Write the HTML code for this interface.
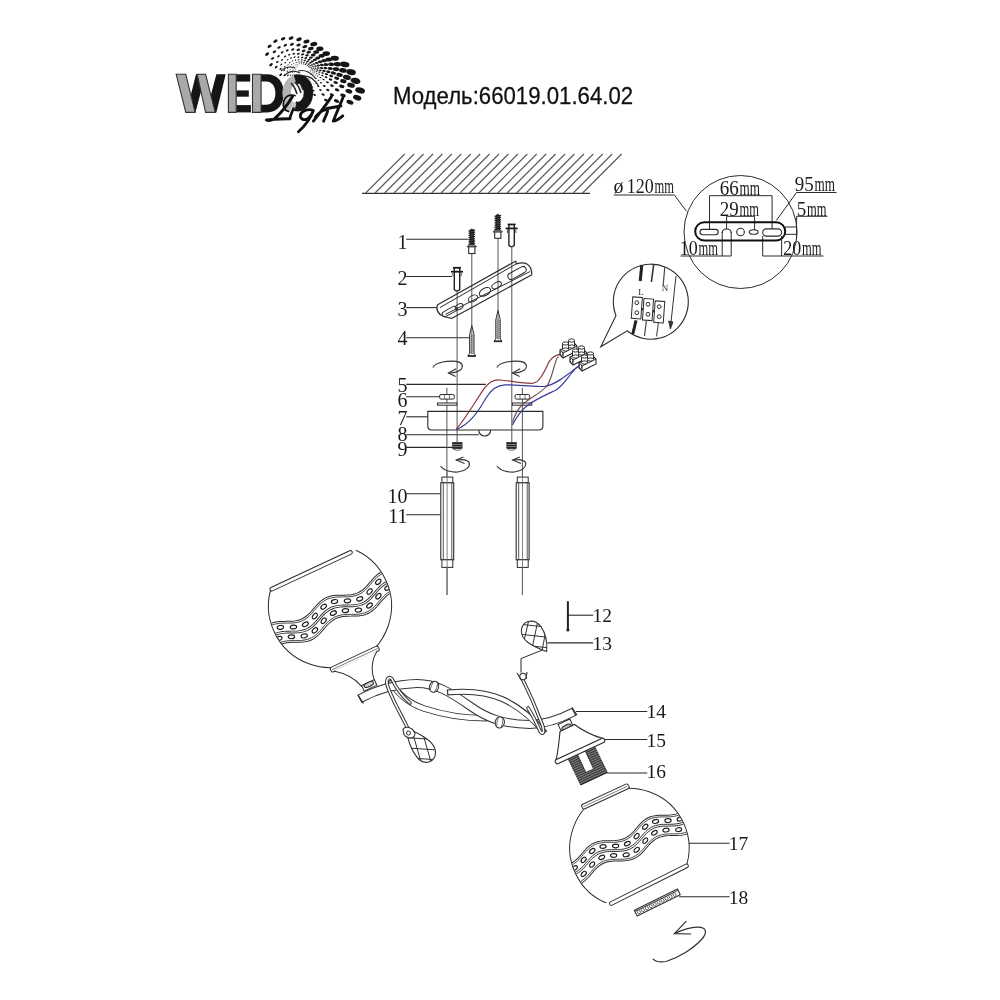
<!DOCTYPE html>
<html><head><meta charset="utf-8"><style>
html,body{margin:0;padding:0;background:#fff;}
svg{display:block;will-change:transform;}
</style></head><body>
<svg width="1000" height="1000" viewBox="0 0 1000 1000">
<rect width="1000" height="1000" fill="#fff"/>
<text x="0" y="0" transform="translate(393,104.2) scale(1,1.1)" font-family="Liberation Sans" font-size="22.2" fill="#111" stroke="#111" stroke-width="0.25">Модель:66019.01.64.02</text>
<line x1="362" y1="193.3" x2="590" y2="193.3" stroke="#333" stroke-width="1.3"/>
<line x1="365.7" y1="193" x2="404.7" y2="154" stroke="#585858" stroke-width="1.1"/>
<line x1="375.1" y1="193" x2="414.1" y2="154" stroke="#585858" stroke-width="1.1"/>
<line x1="384.6" y1="193" x2="423.6" y2="154" stroke="#585858" stroke-width="1.1"/>
<line x1="394" y1="193" x2="433" y2="154" stroke="#585858" stroke-width="1.1"/>
<line x1="403.4" y1="193" x2="442.4" y2="154" stroke="#585858" stroke-width="1.1"/>
<line x1="412.8" y1="193" x2="451.8" y2="154" stroke="#585858" stroke-width="1.1"/>
<line x1="422.3" y1="193" x2="461.3" y2="154" stroke="#585858" stroke-width="1.1"/>
<line x1="431.7" y1="193" x2="470.7" y2="154" stroke="#585858" stroke-width="1.1"/>
<line x1="441.1" y1="193" x2="480.1" y2="154" stroke="#585858" stroke-width="1.1"/>
<line x1="450.6" y1="193" x2="489.6" y2="154" stroke="#585858" stroke-width="1.1"/>
<line x1="460" y1="193" x2="499" y2="154" stroke="#585858" stroke-width="1.1"/>
<line x1="469.4" y1="193" x2="508.4" y2="154" stroke="#585858" stroke-width="1.1"/>
<line x1="478.9" y1="193" x2="517.9" y2="154" stroke="#585858" stroke-width="1.1"/>
<line x1="488.3" y1="193" x2="527.3" y2="154" stroke="#585858" stroke-width="1.1"/>
<line x1="497.7" y1="193" x2="536.7" y2="154" stroke="#585858" stroke-width="1.1"/>
<line x1="507.1" y1="193" x2="546.1" y2="154" stroke="#585858" stroke-width="1.1"/>
<line x1="516.6" y1="193" x2="555.6" y2="154" stroke="#585858" stroke-width="1.1"/>
<line x1="526" y1="193" x2="565" y2="154" stroke="#585858" stroke-width="1.1"/>
<line x1="535.4" y1="193" x2="574.4" y2="154" stroke="#585858" stroke-width="1.1"/>
<line x1="544.9" y1="193" x2="583.9" y2="154" stroke="#585858" stroke-width="1.1"/>
<line x1="554.3" y1="193" x2="593.3" y2="154" stroke="#585858" stroke-width="1.1"/>
<line x1="563.7" y1="193" x2="602.7" y2="154" stroke="#585858" stroke-width="1.1"/>
<line x1="573.2" y1="193" x2="612.2" y2="154" stroke="#585858" stroke-width="1.1"/>
<line x1="582.6" y1="193" x2="621.6" y2="154" stroke="#585858" stroke-width="1.1"/>
<circle cx="740.5" cy="232" r="56.5" stroke="#2b2b2b" stroke-width="1" fill="none"/>
<path d="M613.8,195 L674.4,195 L686.4,211.2" stroke="#2b2b2b" stroke-width="1" fill="none"/>
<text x="613.5" y="193.3" font-family="Liberation Serif" font-size="20" text-anchor="start" fill="#1a1a1a">ø</text>
<text x="626.8" y="193.4" font-family="Liberation Serif" font-size="20" text-anchor="start" fill="#1a1a1a" textLength="27" lengthAdjust="spacingAndGlyphs">120</text>
<text x="654.5" y="193.4" font-family="Liberation Serif" font-size="20" text-anchor="start" fill="#1a1a1a" textLength="19.5" lengthAdjust="spacingAndGlyphs">mm</text>
<text x="719.8" y="195.3" font-family="Liberation Serif" font-size="20" text-anchor="start" fill="#1a1a1a" textLength="19" lengthAdjust="spacingAndGlyphs">66</text>
<text x="739.5" y="195.3" font-family="Liberation Serif" font-size="20" text-anchor="start" fill="#1a1a1a" textLength="20.5" lengthAdjust="spacingAndGlyphs">mm</text>
<text x="719.8" y="215.6" font-family="Liberation Serif" font-size="20" text-anchor="start" fill="#1a1a1a" textLength="19" lengthAdjust="spacingAndGlyphs">29</text>
<text x="739.5" y="215.6" font-family="Liberation Serif" font-size="20" text-anchor="start" fill="#1a1a1a" textLength="19.5" lengthAdjust="spacingAndGlyphs">mm</text>
<text x="794.8" y="191.1" font-family="Liberation Serif" font-size="20" text-anchor="start" fill="#1a1a1a" textLength="19" lengthAdjust="spacingAndGlyphs">95</text>
<text x="814.5" y="191.1" font-family="Liberation Serif" font-size="20" text-anchor="start" fill="#1a1a1a" textLength="20.5" lengthAdjust="spacingAndGlyphs">mm</text>
<text x="796.8" y="215.6" font-family="Liberation Serif" font-size="20" text-anchor="start" fill="#1a1a1a" textLength="9.5" lengthAdjust="spacingAndGlyphs">5</text>
<text x="807" y="215.6" font-family="Liberation Serif" font-size="20" text-anchor="start" fill="#1a1a1a" textLength="19.5" lengthAdjust="spacingAndGlyphs">mm</text>
<text x="679.8" y="255.3" font-family="Liberation Serif" font-size="20" text-anchor="start" fill="#1a1a1a" textLength="18" lengthAdjust="spacingAndGlyphs">10</text>
<text x="698.5" y="255.3" font-family="Liberation Serif" font-size="20" text-anchor="start" fill="#1a1a1a" textLength="19.5" lengthAdjust="spacingAndGlyphs">mm</text>
<text x="783.3" y="255.3" font-family="Liberation Serif" font-size="20" text-anchor="start" fill="#1a1a1a" textLength="18" lengthAdjust="spacingAndGlyphs">20</text>
<text x="802" y="255.3" font-family="Liberation Serif" font-size="20" text-anchor="start" fill="#1a1a1a" textLength="19.5" lengthAdjust="spacingAndGlyphs">mm</text>
<line x1="796.6" y1="192.5" x2="836.5" y2="192.5" stroke="#2b2b2b" stroke-width="1"/>
<line x1="796.6" y1="192.5" x2="776.3" y2="220.5" stroke="#2b2b2b" stroke-width="1"/>
<line x1="796.6" y1="216.3" x2="827.4" y2="216.3" stroke="#2b2b2b" stroke-width="1"/>
<line x1="796.6" y1="216.3" x2="796.6" y2="238.8" stroke="#2b2b2b" stroke-width="1"/>
<line x1="785" y1="227" x2="797" y2="227" stroke="#2b2b2b" stroke-width="1"/>
<line x1="785" y1="234.3" x2="797" y2="234.3" stroke="#2b2b2b" stroke-width="1"/>
<path d="M709.5,229.5 L709.5,195.7 L772.1,195.7 L772.1,229" stroke="#2b2b2b" stroke-width="1" fill="none"/>
<path d="M726.6,229 L726.6,216.3 L754.6,216.3 L754.6,230" stroke="#2b2b2b" stroke-width="1" fill="none"/>
<path d="M680.5,256 L731.2,256 L731.2,232" stroke="#2b2b2b" stroke-width="1" fill="none"/>
<line x1="722.2" y1="232" x2="722.2" y2="256" stroke="#2b2b2b" stroke-width="1"/>
<path d="M762.7,236 L762.7,256 L823.5,256" stroke="#2b2b2b" stroke-width="1" fill="none"/>
<line x1="781.6" y1="236" x2="781.6" y2="256" stroke="#2b2b2b" stroke-width="1"/>
<rect x="695.2" y="222.2" width="90" height="18.4" rx="9.2" stroke="#111" stroke-width="2" fill="none"/>
<rect x="700" y="229.4" width="18.2" height="5.4" rx="2.7" stroke="#2b2b2b" stroke-width="1.1" fill="none"/>
<path d="M722.2,233 Q722.2,229 726.7,229 Q731.2,229 731.2,233" stroke="#2b2b2b" stroke-width="1.1" fill="none"/>
<circle cx="740.5" cy="232" r="3.8" stroke="#2b2b2b" stroke-width="1.1" fill="none"/>
<ellipse cx="753.7" cy="232" rx="4.4" ry="2.3" stroke="#2b2b2b" stroke-width="1.1" fill="none"/>
<rect x="762.7" y="228.9" width="18.9" height="7.2" rx="3.6" stroke="#2b2b2b" stroke-width="1.1" fill="none"/>
<text x="407.5" y="248.5" font-family="Liberation Serif" font-size="20" text-anchor="end" fill="#1a1a1a">1</text>
<line x1="406.2" y1="239.2" x2="468.2" y2="239.2" stroke="#2b2b2b" stroke-width="1.1"/>
<text x="407.5" y="284.5" font-family="Liberation Serif" font-size="20" text-anchor="end" fill="#1a1a1a">2</text>
<line x1="406.2" y1="276.5" x2="452" y2="276.5" stroke="#2b2b2b" stroke-width="1.1"/>
<text x="407.5" y="315.8" font-family="Liberation Serif" font-size="20" text-anchor="end" fill="#1a1a1a">3</text>
<line x1="406.2" y1="307.6" x2="436.7" y2="307.6" stroke="#2b2b2b" stroke-width="1.1"/>
<text x="407.5" y="344.8" font-family="Liberation Serif" font-size="20" text-anchor="end" fill="#1a1a1a">4</text>
<line x1="406.2" y1="337.7" x2="470" y2="337.7" stroke="#2b2b2b" stroke-width="1.1"/>
<text x="407.5" y="392.2" font-family="Liberation Serif" font-size="20" text-anchor="end" fill="#1a1a1a">5</text>
<line x1="406.2" y1="384.4" x2="485.8" y2="384.4" stroke="#2b2b2b" stroke-width="1.1"/>
<text x="407.5" y="407" font-family="Liberation Serif" font-size="20" text-anchor="end" fill="#1a1a1a">6</text>
<line x1="406.2" y1="396.8" x2="439.6" y2="396.8" stroke="#2b2b2b" stroke-width="1.1"/>
<text x="407.5" y="424.5" font-family="Liberation Serif" font-size="20" text-anchor="end" fill="#1a1a1a">7</text>
<line x1="406.2" y1="416.8" x2="427.8" y2="416.8" stroke="#2b2b2b" stroke-width="1.1"/>
<text x="407.5" y="441.2" font-family="Liberation Serif" font-size="20" text-anchor="end" fill="#1a1a1a">8</text>
<line x1="406.2" y1="434.8" x2="478.8" y2="434.8" stroke="#2b2b2b" stroke-width="1.1"/>
<text x="407.5" y="456" font-family="Liberation Serif" font-size="20" text-anchor="end" fill="#1a1a1a">9</text>
<line x1="406.2" y1="447.4" x2="452.9" y2="447.4" stroke="#2b2b2b" stroke-width="1.1"/>
<text x="407.5" y="502.5" font-family="Liberation Serif" font-size="20" text-anchor="end" fill="#1a1a1a">10</text>
<line x1="406.2" y1="493.8" x2="440.7" y2="493.8" stroke="#2b2b2b" stroke-width="1.1"/>
<text x="407.5" y="523.3" font-family="Liberation Serif" font-size="20" text-anchor="end" fill="#1a1a1a">11</text>
<line x1="406.2" y1="514.7" x2="440.7" y2="514.7" stroke="#2b2b2b" stroke-width="1.1"/>
<line x1="471.8" y1="253.5" x2="471.8" y2="327" stroke="#555" stroke-width="1"/>
<line x1="498" y1="238.3" x2="498" y2="311" stroke="#555" stroke-width="1"/>
<line x1="457.1" y1="291.5" x2="457.1" y2="442" stroke="#555" stroke-width="1"/>
<line x1="511.8" y1="247.3" x2="511.8" y2="442" stroke="#555" stroke-width="1"/>
<line x1="446.9" y1="387.8" x2="446.9" y2="477" stroke="#555" stroke-width="1"/>
<line x1="522.4" y1="388" x2="522.4" y2="477" stroke="#555" stroke-width="1"/>
<line x1="447" y1="567" x2="447" y2="595" stroke="#555" stroke-width="1"/>
<line x1="522.4" y1="567" x2="522.4" y2="595" stroke="#555" stroke-width="1"/>
<path d="M470,245 L470,230.3 Q471.8,227.8 473.6,230.3 L473.6,245" fill="#444" stroke="#222" stroke-width="1"/>
<line x1="468.5" y1="231.1" x2="475.1" y2="229.9" stroke="#1a1a1a" stroke-width="1.1"/>
<line x1="468.5" y1="233.3" x2="475.1" y2="232.1" stroke="#1a1a1a" stroke-width="1.1"/>
<line x1="468.5" y1="235.5" x2="475.1" y2="234.3" stroke="#1a1a1a" stroke-width="1.1"/>
<line x1="468.5" y1="237.7" x2="475.1" y2="236.5" stroke="#1a1a1a" stroke-width="1.1"/>
<line x1="468.5" y1="239.9" x2="475.1" y2="238.7" stroke="#1a1a1a" stroke-width="1.1"/>
<line x1="468.5" y1="242.1" x2="475.1" y2="240.9" stroke="#1a1a1a" stroke-width="1.1"/>
<line x1="468.5" y1="244.3" x2="475.1" y2="243.1" stroke="#1a1a1a" stroke-width="1.1"/>
<path d="M467.2,246.8 L468.7,245 L474.9,245 L476.4,246.8 Z" stroke="#2b2b2b" stroke-width="1" fill="#fff"/>
<rect x="468.7" y="246.8" width="6.2" height="6.7" fill="#fff" stroke="#2b2b2b" stroke-width="1.1"/>
<path d="M496,230.2 L496,215.6 Q497.8,213.1 499.6,215.6 L499.6,230.2" fill="#444" stroke="#222" stroke-width="1"/>
<line x1="494.5" y1="216.4" x2="501.1" y2="215.2" stroke="#1a1a1a" stroke-width="1.1"/>
<line x1="494.5" y1="218.6" x2="501.1" y2="217.4" stroke="#1a1a1a" stroke-width="1.1"/>
<line x1="494.5" y1="220.8" x2="501.1" y2="219.6" stroke="#1a1a1a" stroke-width="1.1"/>
<line x1="494.5" y1="223" x2="501.1" y2="221.8" stroke="#1a1a1a" stroke-width="1.1"/>
<line x1="494.5" y1="225.2" x2="501.1" y2="224" stroke="#1a1a1a" stroke-width="1.1"/>
<line x1="494.5" y1="227.4" x2="501.1" y2="226.2" stroke="#1a1a1a" stroke-width="1.1"/>
<line x1="494.5" y1="229.6" x2="501.1" y2="228.4" stroke="#1a1a1a" stroke-width="1.1"/>
<path d="M493.2,232 L494.7,230.2 L500.9,230.2 L502.4,232 Z" stroke="#2b2b2b" stroke-width="1" fill="#fff"/>
<rect x="494.7" y="232" width="6.2" height="6.3" fill="#fff" stroke="#2b2b2b" stroke-width="1.1"/>
<path d="M508.9,224.5 L508.9,245.3 Q511.6,248.3 514.3,245.3 L514.3,224.5" fill="#fff" stroke="#222" stroke-width="1.4"/>
<line x1="507.6" y1="224.5" x2="515.6" y2="224.5" stroke="#1a1a1a" stroke-width="1.8"/>
<line x1="505.6" y1="228.4" x2="517.6" y2="228.4" stroke="#1a1a1a" stroke-width="1.8"/>
<line x1="507.4" y1="229.5" x2="507.4" y2="233" stroke="#555" stroke-width="1"/>
<line x1="515.8" y1="229.5" x2="515.8" y2="233" stroke="#555" stroke-width="1"/>
<path d="M454.3,267.8 L454.3,289.5 Q457,292.5 459.7,289.5 L459.7,267.8" fill="#fff" stroke="#222" stroke-width="1.4"/>
<line x1="453" y1="267.8" x2="461" y2="267.8" stroke="#1a1a1a" stroke-width="1.8"/>
<line x1="451" y1="271.7" x2="463" y2="271.7" stroke="#1a1a1a" stroke-width="1.8"/>
<line x1="452.8" y1="272.8" x2="452.8" y2="276.3" stroke="#555" stroke-width="1"/>
<line x1="461.2" y1="272.8" x2="461.2" y2="276.3" stroke="#555" stroke-width="1"/>
<path d="M471.8,325.5 L474,334.6 L474,353.5 L475.8,356 L467.8,356 L469.6,353.5 L469.6,334.6 Z" fill="#fff" stroke="#2b2b2b" stroke-width="1"/>
<line x1="469.6" y1="334.6" x2="474" y2="335.4" stroke="#555" stroke-width="0.7"/>
<line x1="469.6" y1="336.6" x2="474" y2="337.4" stroke="#555" stroke-width="0.7"/>
<line x1="469.6" y1="338.6" x2="474" y2="339.4" stroke="#555" stroke-width="0.7"/>
<line x1="469.6" y1="340.6" x2="474" y2="341.4" stroke="#555" stroke-width="0.7"/>
<line x1="469.6" y1="342.6" x2="474" y2="343.4" stroke="#555" stroke-width="0.7"/>
<line x1="469.6" y1="344.6" x2="474" y2="345.4" stroke="#555" stroke-width="0.7"/>
<line x1="469.6" y1="346.6" x2="474" y2="347.4" stroke="#555" stroke-width="0.7"/>
<line x1="469.6" y1="348.6" x2="474" y2="349.4" stroke="#555" stroke-width="0.7"/>
<line x1="469.6" y1="350.6" x2="474" y2="351.4" stroke="#555" stroke-width="0.7"/>
<line x1="469.6" y1="352.6" x2="474" y2="353.4" stroke="#555" stroke-width="0.7"/>
<line x1="471.8" y1="327.5" x2="471.8" y2="354" stroke="#444" stroke-width="0.8"/>
<line x1="467.8" y1="356" x2="475.8" y2="356" stroke="#222" stroke-width="1.6"/>
<path d="M498,310.5 L500.2,319.7 L500.2,338.8 L502,341.3 L494,341.3 L495.8,338.8 L495.8,319.7 Z" fill="#fff" stroke="#2b2b2b" stroke-width="1"/>
<line x1="495.8" y1="319.7" x2="500.2" y2="320.5" stroke="#555" stroke-width="0.7"/>
<line x1="495.8" y1="321.7" x2="500.2" y2="322.5" stroke="#555" stroke-width="0.7"/>
<line x1="495.8" y1="323.7" x2="500.2" y2="324.5" stroke="#555" stroke-width="0.7"/>
<line x1="495.8" y1="325.7" x2="500.2" y2="326.5" stroke="#555" stroke-width="0.7"/>
<line x1="495.8" y1="327.7" x2="500.2" y2="328.5" stroke="#555" stroke-width="0.7"/>
<line x1="495.8" y1="329.7" x2="500.2" y2="330.5" stroke="#555" stroke-width="0.7"/>
<line x1="495.8" y1="331.7" x2="500.2" y2="332.5" stroke="#555" stroke-width="0.7"/>
<line x1="495.8" y1="333.7" x2="500.2" y2="334.5" stroke="#555" stroke-width="0.7"/>
<line x1="495.8" y1="335.7" x2="500.2" y2="336.5" stroke="#555" stroke-width="0.7"/>
<line x1="495.8" y1="337.7" x2="500.2" y2="338.5" stroke="#555" stroke-width="0.7"/>
<line x1="498" y1="312.5" x2="498" y2="339.3" stroke="#444" stroke-width="0.8"/>
<line x1="494" y1="341.3" x2="502" y2="341.3" stroke="#222" stroke-width="1.6"/>
<path d="M437.2,305 L515.8,261" stroke="#2b2b2b" stroke-width="1.1" fill="none"/>
<path d="M439.9,307.6 L516.4,263.8" stroke="#2b2b2b" stroke-width="1" fill="none"/>
<path d="M445.4,314.4 L530.1,271.5" stroke="#2b2b2b" stroke-width="1" fill="none"/>
<path d="M452,318.3 L531.8,274.8" stroke="#2b2b2b" stroke-width="1.2" fill="none"/>
<path d="M437.2,305 Q435.5,313 443,316 Q447,318 452,318.3" stroke="#2b2b2b" stroke-width="1.2" fill="none"/>
<path d="M515.8,261 L516.4,263.8 Q523.5,262 527,264 Q532,267 531.8,274.8" stroke="#2b2b2b" stroke-width="1.2" fill="none"/>
<ellipse cx="459.2" cy="306.7" rx="4.2" ry="2.6" transform="rotate(-29 459.2 306.7)" fill="none" stroke="#2b2b2b" stroke-width="1"/>
<ellipse cx="472.9" cy="298.5" rx="5.0" ry="3.0" transform="rotate(-29 472.9 298.5)" fill="none" stroke="#2b2b2b" stroke-width="1"/>
<ellipse cx="485" cy="291.9" rx="6.2" ry="3.6" transform="rotate(-29 485 291.9)" fill="none" stroke="#2b2b2b" stroke-width="1"/>
<ellipse cx="496.6" cy="285.3" rx="5.2" ry="2.8" transform="rotate(-29 496.6 285.3)" fill="none" stroke="#2b2b2b" stroke-width="1"/>
<rect x="-10" y="-3.2" width="20" height="6.4" rx="3.2" transform="translate(517,273) rotate(-29)" fill="none" stroke="#2b2b2b" stroke-width="1"/>
<rect x="-8" y="-2.6" width="16" height="5.2" rx="2.6" transform="translate(449.5,311.5) rotate(-29)" fill="none" stroke="#2b2b2b" stroke-width="1"/>
<path d="M432.8,367.6 C436,362 448,360.5 456.2,361.4 C462,362 464,366 461,369.5 C458,372 452,373 448.4,373" stroke="#333" stroke-width="1.1" fill="none"/>
<path d="M456.2,368.8 L448.4,373 L455.6,376.6" stroke="#333" stroke-width="1.1" fill="none"/>
<path d="M496.8,367.6 C500,362 512,360.5 520.2,361.4 C526,362 528,366 525,369.5 C522,372 516,373 512.4,373" stroke="#333" stroke-width="1.1" fill="none"/>
<path d="M520.2,368.8 L512.4,373 L519.6,376.6" stroke="#333" stroke-width="1.1" fill="none"/>
<path d="M440.6,466 C444,471 452,472.5 458,472 C466,471 470,467 469.4,463 C468,460 462,459.2 456.2,460" stroke="#333" stroke-width="1.1" fill="none"/>
<path d="M463.4,457 L456.2,460 L464.6,463.6" stroke="#333" stroke-width="1.1" fill="none"/>
<path d="M497,466 C500.4,471 508.4,472.5 514.4,472 C522.4,471 526.4,467 525.8,463 C524.4,460 518.4,459.2 512.6,460" stroke="#333" stroke-width="1.1" fill="none"/>
<path d="M519.8,457 L512.6,460 L521,463.6" stroke="#333" stroke-width="1.1" fill="none"/>
<rect x="439.6" y="394.5" width="14.7" height="4.6" rx="1.5" fill="#fff" stroke="#2b2b2b" stroke-width="1"/>
<line x1="444.6" y1="394.5" x2="444.6" y2="399" stroke="#555" stroke-width="0.8"/>
<line x1="449.6" y1="394.5" x2="449.6" y2="399" stroke="#555" stroke-width="0.8"/>
<rect x="515" y="394.5" width="14.7" height="4.6" rx="1.5" fill="#fff" stroke="#2b2b2b" stroke-width="1"/>
<line x1="520" y1="394.5" x2="520" y2="399" stroke="#555" stroke-width="0.8"/>
<line x1="525" y1="394.5" x2="525" y2="399" stroke="#555" stroke-width="0.8"/>
<rect x="437.5" y="403" width="19.4" height="2.2" fill="#fff" stroke="#2b2b2b" stroke-width="1"/>
<rect x="512.4" y="403" width="19.4" height="2.2" fill="#fff" stroke="#2b2b2b" stroke-width="1"/>
<path d="M427.8,411.4 L542.9,411.4 L542.9,426 Q542.9,430 538.9,430 L431.8,430 Q427.8,430 427.8,426 Z" stroke="#2b2b2b" stroke-width="1.1" fill="none"/>
<path d="M478.7,430 A6,6 0 1 0 490.7,430" stroke="#2b2b2b" stroke-width="1.1" fill="none"/>
<rect x="452.5" y="442.4" width="9.6" height="6.3" fill="#222" stroke="#222" stroke-width="0.6"/>
<line x1="452.5" y1="444.5" x2="462.1" y2="444.5" stroke="#aaa" stroke-width="0.7"/>
<line x1="452.5" y1="446.6" x2="462.1" y2="446.6" stroke="#aaa" stroke-width="0.7"/>
<path d="M453,448.7 Q457.3,452 461.6,448.7" stroke="#666" stroke-width="1" fill="none"/>
<rect x="506.8" y="442.4" width="9.6" height="6.3" fill="#222" stroke="#222" stroke-width="0.6"/>
<line x1="506.8" y1="444.5" x2="516.4" y2="444.5" stroke="#aaa" stroke-width="0.7"/>
<line x1="506.8" y1="446.6" x2="516.4" y2="446.6" stroke="#aaa" stroke-width="0.7"/>
<path d="M507.3,448.7 Q511.6,452 515.9,448.7" stroke="#666" stroke-width="1" fill="none"/>
<path d="M456.4,429 C466,418 476,400 485.2,387.2 C490,381 495,379.5 500,380 C512,381 525,384 533.2,383.2 C540,382 544,372 549.2,361.6 C552,357 556,355 560.4,354.4" stroke="#8a3a3a" stroke-width="1.2" fill="none"/>
<path d="M456.4,429.5 C470,424 478,412 486,398 C492,388 498,385 505,384.8 C520,385 532,387 545,386.4 C558,384 570,372 579.6,365.6" stroke="#3a3a9a" stroke-width="1.2" fill="none"/>
<path d="M512.4,422.4 C515,414 518,408 524,403 C532,397 542,392 547,386 C551,380 553,370 555,364 C556,360 557,357 558.8,356.8" stroke="#6a4a4a" stroke-width="1.1" fill="none"/>
<path d="M512.4,425 C516,418 520,411 528,405 C538,398 548,394 556,390 C562,386 566,380 570,375 C573,371 576,368 578,366.4" stroke="#3a3a9a" stroke-width="1.2" fill="none"/>
<path d="M560,350 L574,343 L577,346 L577,351 L563,358 L560,355 Z" stroke="#2b2b2b" stroke-width="1.1" fill="#fff"/>
<path d="M560,350 L563,353 L577,346 M563,353 L563,358" stroke="#2b2b2b" stroke-width="1" fill="none"/>
<ellipse cx="561.5" cy="353.5" rx="1.3" ry="2.3" fill="#fff" stroke="#2b2b2b" stroke-width="1"/>
<path d="M562.5,349.5 L562.5,343.5 L568.5,343.5 L568.5,349.5" stroke="#2b2b2b" stroke-width="1" fill="#fff"/>
<ellipse cx="565.5" cy="349.5" rx="3" ry="1.6" fill="#fff" stroke="#2b2b2b" stroke-width="1"/>
<ellipse cx="565.5" cy="343.5" rx="3" ry="1.6" fill="#fff" stroke="#2b2b2b" stroke-width="1"/>
<path d="M568.5,346.5 L568.5,340.5 L574.5,340.5 L574.5,346.5" stroke="#2b2b2b" stroke-width="1" fill="#fff"/>
<ellipse cx="571.5" cy="346.5" rx="3" ry="1.6" fill="#fff" stroke="#2b2b2b" stroke-width="1"/>
<ellipse cx="571.5" cy="340.5" rx="3" ry="1.6" fill="#fff" stroke="#2b2b2b" stroke-width="1"/>
<path d="M570,357 L584,350 L587,353 L587,358 L573,365 L570,362 Z" stroke="#2b2b2b" stroke-width="1.1" fill="#fff"/>
<path d="M570,357 L573,360 L587,353 M573,360 L573,365" stroke="#2b2b2b" stroke-width="1" fill="none"/>
<ellipse cx="571.5" cy="360.5" rx="1.3" ry="2.3" fill="#fff" stroke="#2b2b2b" stroke-width="1"/>
<path d="M572.5,356.5 L572.5,350.5 L578.5,350.5 L578.5,356.5" stroke="#2b2b2b" stroke-width="1" fill="#fff"/>
<ellipse cx="575.5" cy="356.5" rx="3" ry="1.6" fill="#fff" stroke="#2b2b2b" stroke-width="1"/>
<ellipse cx="575.5" cy="350.5" rx="3" ry="1.6" fill="#fff" stroke="#2b2b2b" stroke-width="1"/>
<path d="M578.5,353.5 L578.5,347.5 L584.5,347.5 L584.5,353.5" stroke="#2b2b2b" stroke-width="1" fill="#fff"/>
<ellipse cx="581.5" cy="353.5" rx="3" ry="1.6" fill="#fff" stroke="#2b2b2b" stroke-width="1"/>
<ellipse cx="581.5" cy="347.5" rx="3" ry="1.6" fill="#fff" stroke="#2b2b2b" stroke-width="1"/>
<path d="M579,363 L593,356 L596,359 L596,364 L582,371 L579,368 Z" stroke="#2b2b2b" stroke-width="1.1" fill="#fff"/>
<path d="M579,363 L582,366 L596,359 M582,366 L582,371" stroke="#2b2b2b" stroke-width="1" fill="none"/>
<ellipse cx="580.5" cy="366.5" rx="1.3" ry="2.3" fill="#fff" stroke="#2b2b2b" stroke-width="1"/>
<path d="M581.5,362.5 L581.5,356.5 L587.5,356.5 L587.5,362.5" stroke="#2b2b2b" stroke-width="1" fill="#fff"/>
<ellipse cx="584.5" cy="362.5" rx="3" ry="1.6" fill="#fff" stroke="#2b2b2b" stroke-width="1"/>
<ellipse cx="584.5" cy="356.5" rx="3" ry="1.6" fill="#fff" stroke="#2b2b2b" stroke-width="1"/>
<path d="M587.5,359.5 L587.5,353.5 L593.5,353.5 L593.5,359.5" stroke="#2b2b2b" stroke-width="1" fill="#fff"/>
<ellipse cx="590.5" cy="359.5" rx="3" ry="1.6" fill="#fff" stroke="#2b2b2b" stroke-width="1"/>
<ellipse cx="590.5" cy="353.5" rx="3" ry="1.6" fill="#fff" stroke="#2b2b2b" stroke-width="1"/>
<path d="M616,315.6 A37.5,37.5 0 1 1 627.2,330.8 L600.8,346.8 Z" stroke="#2b2b2b" stroke-width="1.1" fill="#fff"/>
<line x1="641.8" y1="265" x2="640.2" y2="281" stroke="#222" stroke-width="3"/>
<line x1="653.6" y1="265" x2="651.4" y2="282" stroke="#333" stroke-width="1.6"/>
<line x1="664.8" y1="267" x2="663.2" y2="285" stroke="#444" stroke-width="1.2"/>
<line x1="676" y1="276" x2="670.6" y2="326" stroke="#333" stroke-width="1"/>
<path d="M668.6,321 L670.4,329 L673,322 Z" stroke="#2b2b2b" stroke-width="0.8" fill="#333"/>
<text x="638.3" y="295" font-family="Liberation Serif" font-size="9" text-anchor="start" fill="#1a1a1a">L</text>
<text x="661.8" y="291" font-family="Liberation Serif" font-size="9" text-anchor="start" fill="#1a1a1a">N</text>
<rect x="632" y="297.2" width="9.6" height="21.5" transform="rotate(4 637 308.2)" fill="#fff" stroke="#2b2b2b" stroke-width="1"/>
<circle cx="636.8" cy="302.7" r="1.9" fill="none" stroke="#2b2b2b" stroke-width="1"/>
<circle cx="636.8" cy="312.7" r="1.9" fill="none" stroke="#2b2b2b" stroke-width="1"/>
<rect x="643.2" y="298.8" width="9.6" height="21.5" transform="rotate(4 648.2 309.8)" fill="#fff" stroke="#2b2b2b" stroke-width="1"/>
<circle cx="648" cy="304.3" r="1.9" fill="none" stroke="#2b2b2b" stroke-width="1"/>
<circle cx="648" cy="314.3" r="1.9" fill="none" stroke="#2b2b2b" stroke-width="1"/>
<rect x="654.4" y="301.2" width="9.6" height="21.5" transform="rotate(4 659.4 312.2)" fill="#fff" stroke="#2b2b2b" stroke-width="1"/>
<circle cx="659.2" cy="306.7" r="1.9" fill="none" stroke="#2b2b2b" stroke-width="1"/>
<circle cx="659.2" cy="316.7" r="1.9" fill="none" stroke="#2b2b2b" stroke-width="1"/>
<line x1="636" y1="320.4" x2="632.8" y2="334" stroke="#222" stroke-width="3"/>
<line x1="646.4" y1="320.6" x2="644.5" y2="336" stroke="#444" stroke-width="1.2"/>
<line x1="658.4" y1="322.8" x2="656.5" y2="336.5" stroke="#555" stroke-width="1.2"/>
<rect x="641.6" y="308" width="1.6" height="2.4" fill="#333"/>
<rect x="652.8" y="310" width="1.6" height="2.4" fill="#333"/>
<rect x="441.9" y="477.1" width="10.9" height="5.7" fill="#fff" stroke="#2b2b2b" stroke-width="1"/>
<rect x="440.8" y="482.8" width="12.9" height="77" fill="#fff" stroke="#2b2b2b" stroke-width="1.1"/>
<line x1="443.3" y1="482.8" x2="443.3" y2="559.8" stroke="#444" stroke-width="0.9"/>
<line x1="451.8" y1="482.8" x2="451.8" y2="559.8" stroke="#444" stroke-width="0.9"/>
<rect x="441.9" y="559.8" width="10.9" height="7.6" fill="#fff" stroke="#2b2b2b" stroke-width="1"/>
<line x1="447.1" y1="470" x2="447.1" y2="595" stroke="#666" stroke-width="0.8"/>
<rect x="517.3" y="477.1" width="10.9" height="5.7" fill="#fff" stroke="#2b2b2b" stroke-width="1"/>
<rect x="516.2" y="482.8" width="12.9" height="77" fill="#fff" stroke="#2b2b2b" stroke-width="1.1"/>
<line x1="518.7" y1="482.8" x2="518.7" y2="559.8" stroke="#444" stroke-width="0.9"/>
<line x1="527.2" y1="482.8" x2="527.2" y2="559.8" stroke="#444" stroke-width="0.9"/>
<rect x="517.3" y="559.8" width="10.9" height="7.6" fill="#fff" stroke="#2b2b2b" stroke-width="1"/>
<line x1="522.5" y1="470" x2="522.5" y2="595" stroke="#666" stroke-width="0.8"/>
<g transform="translate(330,606) rotate(-25) scale(1.0)"><clipPath id="gc1"><rect x="-80" y="-39.5" width="160" height="96.5"/></clipPath><clipPath id="gc1b"><circle cx="0" cy="0" r="61.0"/></clipPath><circle cx="0" cy="0" r="61.5" fill="#fff" stroke="#2b2b2b" stroke-width="1" clip-path="url(#gc1)"/><g clip-path="url(#gc1b)"><g transform="translate(0,2.8)"><path d="M-64.0,-11.9 L-62.0,-12.0 L-60.0,-11.9 L-58.0,-11.6 L-56.0,-11.2 L-54.0,-10.6 L-52.0,-9.9 L-50.0,-9.1 L-48.0,-8.2 L-46.0,-7.3 L-44.0,-6.4 L-42.0,-5.5 L-40.0,-4.7 L-38.0,-4.1 L-36.0,-3.6 L-34.0,-3.2 L-32.0,-3.0 L-30.0,-3.0 L-28.0,-3.2 L-26.0,-3.6 L-24.0,-4.1 L-22.0,-4.7 L-20.0,-5.5 L-18.0,-6.4 L-16.0,-7.3 L-14.0,-8.2 L-12.0,-9.1 L-10.0,-9.9 L-8.0,-10.6 L-6.0,-11.2 L-4.0,-11.6 L-2.0,-11.9 L0.0,-12.0 L2.0,-11.9 L4.0,-11.6 L6.0,-11.2 L8.0,-10.6 L10.0,-9.9 L12.0,-9.1 L14.0,-8.2 L16.0,-7.3 L18.0,-6.4 L20.0,-5.5 L22.0,-4.7 L24.0,-4.1 L26.0,-3.6 L28.0,-3.2 L30.0,-3.0 L32.0,-3.0 L34.0,-3.2 L36.0,-3.6 L38.0,-4.1 L40.0,-4.7 L42.0,-5.5 L44.0,-6.4 L46.0,-7.3 L48.0,-8.2 L50.0,-9.1 L52.0,-9.9 L54.0,-10.6 L56.0,-11.2 L58.0,-11.6 L60.0,-11.9 L62.0,-12.0 L64.0,-11.9" fill="none" stroke="#2b2b2b" stroke-width="1"/><path d="M-64.0,-10.0 L-62.0,-10.1 L-60.0,-10.0 L-58.0,-9.7 L-56.0,-9.3 L-54.0,-8.7 L-52.0,-8.0 L-50.0,-7.2 L-48.0,-6.3 L-46.0,-5.4 L-44.0,-4.5 L-42.0,-3.6 L-40.0,-2.8 L-38.0,-2.2 L-36.0,-1.7 L-34.0,-1.3 L-32.0,-1.1 L-30.0,-1.1 L-28.0,-1.3 L-26.0,-1.7 L-24.0,-2.2 L-22.0,-2.8 L-20.0,-3.6 L-18.0,-4.5 L-16.0,-5.4 L-14.0,-6.3 L-12.0,-7.2 L-10.0,-8.0 L-8.0,-8.7 L-6.0,-9.3 L-4.0,-9.7 L-2.0,-10.0 L0.0,-10.1 L2.0,-10.0 L4.0,-9.7 L6.0,-9.3 L8.0,-8.7 L10.0,-8.0 L12.0,-7.2 L14.0,-6.3 L16.0,-5.4 L18.0,-4.5 L20.0,-3.6 L22.0,-2.8 L24.0,-2.2 L26.0,-1.7 L28.0,-1.3 L30.0,-1.1 L32.0,-1.1 L34.0,-1.3 L36.0,-1.7 L38.0,-2.2 L40.0,-2.8 L42.0,-3.6 L44.0,-4.5 L46.0,-5.4 L48.0,-6.3 L50.0,-7.2 L52.0,-8.0 L54.0,-8.7 L56.0,-9.3 L58.0,-9.7 L60.0,-10.0 L62.0,-10.1 L64.0,-10.0" fill="none" stroke="#2b2b2b" stroke-width="0.8"/><path d="M-64.0,-1.1 L-62.0,-1.2 L-60.0,-1.1 L-58.0,-0.8 L-56.0,-0.4 L-54.0,0.2 L-52.0,0.9 L-50.0,1.7 L-48.0,2.6 L-46.0,3.5 L-44.0,4.4 L-42.0,5.3 L-40.0,6.1 L-38.0,6.7 L-36.0,7.2 L-34.0,7.6 L-32.0,7.8 L-30.0,7.8 L-28.0,7.6 L-26.0,7.2 L-24.0,6.7 L-22.0,6.1 L-20.0,5.3 L-18.0,4.4 L-16.0,3.5 L-14.0,2.6 L-12.0,1.7 L-10.0,0.9 L-8.0,0.2 L-6.0,-0.4 L-4.0,-0.8 L-2.0,-1.1 L0.0,-1.2 L2.0,-1.1 L4.0,-0.8 L6.0,-0.4 L8.0,0.2 L10.0,0.9 L12.0,1.7 L14.0,2.6 L16.0,3.5 L18.0,4.4 L20.0,5.3 L22.0,6.1 L24.0,6.7 L26.0,7.2 L28.0,7.6 L30.0,7.8 L32.0,7.8 L34.0,7.6 L36.0,7.2 L38.0,6.7 L40.0,6.1 L42.0,5.3 L44.0,4.4 L46.0,3.5 L48.0,2.6 L50.0,1.7 L52.0,0.9 L54.0,0.2 L56.0,-0.4 L58.0,-0.8 L60.0,-1.1 L62.0,-1.2 L64.0,-1.1" fill="none" stroke="#2b2b2b" stroke-width="0.9"/><path d="M-64.0,0.9 L-62.0,0.8 L-60.0,0.9 L-58.0,1.2 L-56.0,1.6 L-54.0,2.2 L-52.0,2.9 L-50.0,3.7 L-48.0,4.6 L-46.0,5.5 L-44.0,6.4 L-42.0,7.3 L-40.0,8.1 L-38.0,8.7 L-36.0,9.2 L-34.0,9.6 L-32.0,9.8 L-30.0,9.8 L-28.0,9.6 L-26.0,9.2 L-24.0,8.7 L-22.0,8.1 L-20.0,7.3 L-18.0,6.4 L-16.0,5.5 L-14.0,4.6 L-12.0,3.7 L-10.0,2.9 L-8.0,2.2 L-6.0,1.6 L-4.0,1.2 L-2.0,0.9 L0.0,0.8 L2.0,0.9 L4.0,1.2 L6.0,1.6 L8.0,2.2 L10.0,2.9 L12.0,3.7 L14.0,4.6 L16.0,5.5 L18.0,6.4 L20.0,7.3 L22.0,8.1 L24.0,8.7 L26.0,9.2 L28.0,9.6 L30.0,9.8 L32.0,9.8 L34.0,9.6 L36.0,9.2 L38.0,8.7 L40.0,8.1 L42.0,7.3 L44.0,6.4 L46.0,5.5 L48.0,4.6 L50.0,3.7 L52.0,2.9 L54.0,2.2 L56.0,1.6 L58.0,1.2 L60.0,0.9 L62.0,0.8 L64.0,0.9" fill="none" stroke="#2b2b2b" stroke-width="0.9"/><path d="M-64.0,9.3 L-62.0,9.2 L-60.0,9.3 L-58.0,9.6 L-56.0,10.0 L-54.0,10.6 L-52.0,11.3 L-50.0,12.1 L-48.0,13.0 L-46.0,13.9 L-44.0,14.8 L-42.0,15.7 L-40.0,16.5 L-38.0,17.1 L-36.0,17.6 L-34.0,18.0 L-32.0,18.2 L-30.0,18.2 L-28.0,18.0 L-26.0,17.6 L-24.0,17.1 L-22.0,16.5 L-20.0,15.7 L-18.0,14.8 L-16.0,13.9 L-14.0,13.0 L-12.0,12.1 L-10.0,11.3 L-8.0,10.6 L-6.0,10.0 L-4.0,9.6 L-2.0,9.3 L0.0,9.2 L2.0,9.3 L4.0,9.6 L6.0,10.0 L8.0,10.6 L10.0,11.3 L12.0,12.1 L14.0,13.0 L16.0,13.9 L18.0,14.8 L20.0,15.7 L22.0,16.5 L24.0,17.1 L26.0,17.6 L28.0,18.0 L30.0,18.2 L32.0,18.2 L34.0,18.0 L36.0,17.6 L38.0,17.1 L40.0,16.5 L42.0,15.7 L44.0,14.8 L46.0,13.9 L48.0,13.0 L50.0,12.1 L52.0,11.3 L54.0,10.6 L56.0,10.0 L58.0,9.6 L60.0,9.3 L62.0,9.2 L64.0,9.3" fill="none" stroke="#2b2b2b" stroke-width="0.8"/><path d="M-64.0,11.2 L-62.0,11.1 L-60.0,11.2 L-58.0,11.5 L-56.0,11.9 L-54.0,12.5 L-52.0,13.2 L-50.0,14.0 L-48.0,14.9 L-46.0,15.8 L-44.0,16.7 L-42.0,17.6 L-40.0,18.4 L-38.0,19.0 L-36.0,19.5 L-34.0,19.9 L-32.0,20.1 L-30.0,20.1 L-28.0,19.9 L-26.0,19.5 L-24.0,19.0 L-22.0,18.4 L-20.0,17.6 L-18.0,16.7 L-16.0,15.8 L-14.0,14.9 L-12.0,14.0 L-10.0,13.2 L-8.0,12.5 L-6.0,11.9 L-4.0,11.5 L-2.0,11.2 L0.0,11.1 L2.0,11.2 L4.0,11.5 L6.0,11.9 L8.0,12.5 L10.0,13.2 L12.0,14.0 L14.0,14.9 L16.0,15.8 L18.0,16.7 L20.0,17.6 L22.0,18.4 L24.0,19.0 L26.0,19.5 L28.0,19.9 L30.0,20.1 L32.0,20.1 L34.0,19.9 L36.0,19.5 L38.0,19.0 L40.0,18.4 L42.0,17.6 L44.0,16.7 L46.0,15.8 L48.0,14.9 L50.0,14.0 L52.0,13.2 L54.0,12.5 L56.0,11.9 L58.0,11.5 L60.0,11.2 L62.0,11.1 L64.0,11.2" fill="none" stroke="#2b2b2b" stroke-width="1"/><ellipse cx="-66.0" cy="-5.3" rx="3.2" ry="1.95" transform="rotate(-10 -66.0 -5.3)" fill="none" stroke="#1e1e1e" stroke-width="1.2"/><ellipse cx="-54.0" cy="-4.3" rx="3.2" ry="1.95" transform="rotate(18 -54.0 -4.3)" fill="none" stroke="#1e1e1e" stroke-width="1.2"/><ellipse cx="-42.0" cy="0.8" rx="3.2" ry="1.95" transform="rotate(22 -42.0 0.8)" fill="none" stroke="#1e1e1e" stroke-width="1.2"/><ellipse cx="-30.0" cy="3.3" rx="3.2" ry="1.95" transform="rotate(-3 -30.0 3.3)" fill="none" stroke="#1e1e1e" stroke-width="1.2"/><ellipse cx="-18.0" cy="-0.1" rx="3.2" ry="1.95" transform="rotate(-24 -18.0 -0.1)" fill="none" stroke="#1e1e1e" stroke-width="1.2"/><ellipse cx="-6.0" cy="-4.9" rx="3.2" ry="1.95" transform="rotate(-15 -6.0 -4.9)" fill="none" stroke="#1e1e1e" stroke-width="1.2"/><ellipse cx="6.0" cy="-4.9" rx="3.2" ry="1.95" transform="rotate(15 6.0 -4.9)" fill="none" stroke="#1e1e1e" stroke-width="1.2"/><ellipse cx="18.0" cy="-0.1" rx="3.2" ry="1.95" transform="rotate(24 18.0 -0.1)" fill="none" stroke="#1e1e1e" stroke-width="1.2"/><ellipse cx="30.0" cy="3.3" rx="3.2" ry="1.95" transform="rotate(3 30.0 3.3)" fill="none" stroke="#1e1e1e" stroke-width="1.2"/><ellipse cx="42.0" cy="0.8" rx="3.2" ry="1.95" transform="rotate(-22 42.0 0.8)" fill="none" stroke="#1e1e1e" stroke-width="1.2"/><ellipse cx="54.0" cy="-4.3" rx="3.2" ry="1.95" transform="rotate(-18 54.0 -4.3)" fill="none" stroke="#1e1e1e" stroke-width="1.2"/><ellipse cx="-60.0" cy="5.1" rx="3.2" ry="1.95" transform="rotate(5 -60.0 5.1)" fill="none" stroke="#1e1e1e" stroke-width="1.2"/><ellipse cx="-48.0" cy="8.8" rx="3.2" ry="1.95" transform="rotate(24 -48.0 8.8)" fill="none" stroke="#1e1e1e" stroke-width="1.2"/><ellipse cx="-36.0" cy="13.4" rx="3.2" ry="1.95" transform="rotate(12 -36.0 13.4)" fill="none" stroke="#1e1e1e" stroke-width="1.2"/><ellipse cx="-24.0" cy="12.9" rx="3.2" ry="1.95" transform="rotate(-17 -24.0 12.9)" fill="none" stroke="#1e1e1e" stroke-width="1.2"/><ellipse cx="-12.0" cy="7.9" rx="3.2" ry="1.95" transform="rotate(-23 -12.0 7.9)" fill="none" stroke="#1e1e1e" stroke-width="1.2"/><ellipse cx="0.0" cy="5.0" rx="3.2" ry="1.95" transform="rotate(0 0.0 5.0)" fill="none" stroke="#1e1e1e" stroke-width="1.2"/><ellipse cx="12.0" cy="7.9" rx="3.2" ry="1.95" transform="rotate(23 12.0 7.9)" fill="none" stroke="#1e1e1e" stroke-width="1.2"/><ellipse cx="24.0" cy="12.9" rx="3.2" ry="1.95" transform="rotate(17 24.0 12.9)" fill="none" stroke="#1e1e1e" stroke-width="1.2"/><ellipse cx="36.0" cy="13.4" rx="3.2" ry="1.95" transform="rotate(-12 36.0 13.4)" fill="none" stroke="#1e1e1e" stroke-width="1.2"/><ellipse cx="48.0" cy="8.8" rx="3.2" ry="1.95" transform="rotate(-24 48.0 8.8)" fill="none" stroke="#1e1e1e" stroke-width="1.2"/><ellipse cx="60.0" cy="5.1" rx="3.2" ry="1.95" transform="rotate(-5 60.0 5.1)" fill="none" stroke="#1e1e1e" stroke-width="1.2"/></g></g><rect x="-47.5" y="-41.8" width="90.5" height="3.8" rx="1.8" transform="rotate(0.0 -47.5 -40.0)" fill="#fff" stroke="#2b2b2b" stroke-width="1"/><rect x="-26.5" y="56" width="53" height="5.2" rx="2" fill="#fff" stroke="#2b2b2b" stroke-width="1"/><line x1="-25" y1="58.6" x2="25" y2="58.6" stroke="#555" stroke-width="0.7"/></g>
<g transform="translate(629.4,848) rotate(155) scale(0.97)"><clipPath id="gc2"><rect x="-80" y="-41.1" width="160" height="98.1"/></clipPath><clipPath id="gc2b"><circle cx="0" cy="0" r="61.0"/></clipPath><circle cx="0" cy="0" r="61.5" fill="#fff" stroke="#2b2b2b" stroke-width="1" clip-path="url(#gc2)"/><g clip-path="url(#gc2b)"><g transform="translate(0,0.0)"><path d="M-64.0,-11.9 L-62.0,-12.0 L-60.0,-11.9 L-58.0,-11.6 L-56.0,-11.2 L-54.0,-10.6 L-52.0,-9.9 L-50.0,-9.1 L-48.0,-8.2 L-46.0,-7.3 L-44.0,-6.4 L-42.0,-5.5 L-40.0,-4.7 L-38.0,-4.1 L-36.0,-3.6 L-34.0,-3.2 L-32.0,-3.0 L-30.0,-3.0 L-28.0,-3.2 L-26.0,-3.6 L-24.0,-4.1 L-22.0,-4.7 L-20.0,-5.5 L-18.0,-6.4 L-16.0,-7.3 L-14.0,-8.2 L-12.0,-9.1 L-10.0,-9.9 L-8.0,-10.6 L-6.0,-11.2 L-4.0,-11.6 L-2.0,-11.9 L0.0,-12.0 L2.0,-11.9 L4.0,-11.6 L6.0,-11.2 L8.0,-10.6 L10.0,-9.9 L12.0,-9.1 L14.0,-8.2 L16.0,-7.3 L18.0,-6.4 L20.0,-5.5 L22.0,-4.7 L24.0,-4.1 L26.0,-3.6 L28.0,-3.2 L30.0,-3.0 L32.0,-3.0 L34.0,-3.2 L36.0,-3.6 L38.0,-4.1 L40.0,-4.7 L42.0,-5.5 L44.0,-6.4 L46.0,-7.3 L48.0,-8.2 L50.0,-9.1 L52.0,-9.9 L54.0,-10.6 L56.0,-11.2 L58.0,-11.6 L60.0,-11.9 L62.0,-12.0 L64.0,-11.9" fill="none" stroke="#2b2b2b" stroke-width="1"/><path d="M-64.0,-10.0 L-62.0,-10.1 L-60.0,-10.0 L-58.0,-9.7 L-56.0,-9.3 L-54.0,-8.7 L-52.0,-8.0 L-50.0,-7.2 L-48.0,-6.3 L-46.0,-5.4 L-44.0,-4.5 L-42.0,-3.6 L-40.0,-2.8 L-38.0,-2.2 L-36.0,-1.7 L-34.0,-1.3 L-32.0,-1.1 L-30.0,-1.1 L-28.0,-1.3 L-26.0,-1.7 L-24.0,-2.2 L-22.0,-2.8 L-20.0,-3.6 L-18.0,-4.5 L-16.0,-5.4 L-14.0,-6.3 L-12.0,-7.2 L-10.0,-8.0 L-8.0,-8.7 L-6.0,-9.3 L-4.0,-9.7 L-2.0,-10.0 L0.0,-10.1 L2.0,-10.0 L4.0,-9.7 L6.0,-9.3 L8.0,-8.7 L10.0,-8.0 L12.0,-7.2 L14.0,-6.3 L16.0,-5.4 L18.0,-4.5 L20.0,-3.6 L22.0,-2.8 L24.0,-2.2 L26.0,-1.7 L28.0,-1.3 L30.0,-1.1 L32.0,-1.1 L34.0,-1.3 L36.0,-1.7 L38.0,-2.2 L40.0,-2.8 L42.0,-3.6 L44.0,-4.5 L46.0,-5.4 L48.0,-6.3 L50.0,-7.2 L52.0,-8.0 L54.0,-8.7 L56.0,-9.3 L58.0,-9.7 L60.0,-10.0 L62.0,-10.1 L64.0,-10.0" fill="none" stroke="#2b2b2b" stroke-width="0.8"/><path d="M-64.0,-1.1 L-62.0,-1.2 L-60.0,-1.1 L-58.0,-0.8 L-56.0,-0.4 L-54.0,0.2 L-52.0,0.9 L-50.0,1.7 L-48.0,2.6 L-46.0,3.5 L-44.0,4.4 L-42.0,5.3 L-40.0,6.1 L-38.0,6.7 L-36.0,7.2 L-34.0,7.6 L-32.0,7.8 L-30.0,7.8 L-28.0,7.6 L-26.0,7.2 L-24.0,6.7 L-22.0,6.1 L-20.0,5.3 L-18.0,4.4 L-16.0,3.5 L-14.0,2.6 L-12.0,1.7 L-10.0,0.9 L-8.0,0.2 L-6.0,-0.4 L-4.0,-0.8 L-2.0,-1.1 L0.0,-1.2 L2.0,-1.1 L4.0,-0.8 L6.0,-0.4 L8.0,0.2 L10.0,0.9 L12.0,1.7 L14.0,2.6 L16.0,3.5 L18.0,4.4 L20.0,5.3 L22.0,6.1 L24.0,6.7 L26.0,7.2 L28.0,7.6 L30.0,7.8 L32.0,7.8 L34.0,7.6 L36.0,7.2 L38.0,6.7 L40.0,6.1 L42.0,5.3 L44.0,4.4 L46.0,3.5 L48.0,2.6 L50.0,1.7 L52.0,0.9 L54.0,0.2 L56.0,-0.4 L58.0,-0.8 L60.0,-1.1 L62.0,-1.2 L64.0,-1.1" fill="none" stroke="#2b2b2b" stroke-width="0.9"/><path d="M-64.0,0.9 L-62.0,0.8 L-60.0,0.9 L-58.0,1.2 L-56.0,1.6 L-54.0,2.2 L-52.0,2.9 L-50.0,3.7 L-48.0,4.6 L-46.0,5.5 L-44.0,6.4 L-42.0,7.3 L-40.0,8.1 L-38.0,8.7 L-36.0,9.2 L-34.0,9.6 L-32.0,9.8 L-30.0,9.8 L-28.0,9.6 L-26.0,9.2 L-24.0,8.7 L-22.0,8.1 L-20.0,7.3 L-18.0,6.4 L-16.0,5.5 L-14.0,4.6 L-12.0,3.7 L-10.0,2.9 L-8.0,2.2 L-6.0,1.6 L-4.0,1.2 L-2.0,0.9 L0.0,0.8 L2.0,0.9 L4.0,1.2 L6.0,1.6 L8.0,2.2 L10.0,2.9 L12.0,3.7 L14.0,4.6 L16.0,5.5 L18.0,6.4 L20.0,7.3 L22.0,8.1 L24.0,8.7 L26.0,9.2 L28.0,9.6 L30.0,9.8 L32.0,9.8 L34.0,9.6 L36.0,9.2 L38.0,8.7 L40.0,8.1 L42.0,7.3 L44.0,6.4 L46.0,5.5 L48.0,4.6 L50.0,3.7 L52.0,2.9 L54.0,2.2 L56.0,1.6 L58.0,1.2 L60.0,0.9 L62.0,0.8 L64.0,0.9" fill="none" stroke="#2b2b2b" stroke-width="0.9"/><path d="M-64.0,9.3 L-62.0,9.2 L-60.0,9.3 L-58.0,9.6 L-56.0,10.0 L-54.0,10.6 L-52.0,11.3 L-50.0,12.1 L-48.0,13.0 L-46.0,13.9 L-44.0,14.8 L-42.0,15.7 L-40.0,16.5 L-38.0,17.1 L-36.0,17.6 L-34.0,18.0 L-32.0,18.2 L-30.0,18.2 L-28.0,18.0 L-26.0,17.6 L-24.0,17.1 L-22.0,16.5 L-20.0,15.7 L-18.0,14.8 L-16.0,13.9 L-14.0,13.0 L-12.0,12.1 L-10.0,11.3 L-8.0,10.6 L-6.0,10.0 L-4.0,9.6 L-2.0,9.3 L0.0,9.2 L2.0,9.3 L4.0,9.6 L6.0,10.0 L8.0,10.6 L10.0,11.3 L12.0,12.1 L14.0,13.0 L16.0,13.9 L18.0,14.8 L20.0,15.7 L22.0,16.5 L24.0,17.1 L26.0,17.6 L28.0,18.0 L30.0,18.2 L32.0,18.2 L34.0,18.0 L36.0,17.6 L38.0,17.1 L40.0,16.5 L42.0,15.7 L44.0,14.8 L46.0,13.9 L48.0,13.0 L50.0,12.1 L52.0,11.3 L54.0,10.6 L56.0,10.0 L58.0,9.6 L60.0,9.3 L62.0,9.2 L64.0,9.3" fill="none" stroke="#2b2b2b" stroke-width="0.8"/><path d="M-64.0,11.2 L-62.0,11.1 L-60.0,11.2 L-58.0,11.5 L-56.0,11.9 L-54.0,12.5 L-52.0,13.2 L-50.0,14.0 L-48.0,14.9 L-46.0,15.8 L-44.0,16.7 L-42.0,17.6 L-40.0,18.4 L-38.0,19.0 L-36.0,19.5 L-34.0,19.9 L-32.0,20.1 L-30.0,20.1 L-28.0,19.9 L-26.0,19.5 L-24.0,19.0 L-22.0,18.4 L-20.0,17.6 L-18.0,16.7 L-16.0,15.8 L-14.0,14.9 L-12.0,14.0 L-10.0,13.2 L-8.0,12.5 L-6.0,11.9 L-4.0,11.5 L-2.0,11.2 L0.0,11.1 L2.0,11.2 L4.0,11.5 L6.0,11.9 L8.0,12.5 L10.0,13.2 L12.0,14.0 L14.0,14.9 L16.0,15.8 L18.0,16.7 L20.0,17.6 L22.0,18.4 L24.0,19.0 L26.0,19.5 L28.0,19.9 L30.0,20.1 L32.0,20.1 L34.0,19.9 L36.0,19.5 L38.0,19.0 L40.0,18.4 L42.0,17.6 L44.0,16.7 L46.0,15.8 L48.0,14.9 L50.0,14.0 L52.0,13.2 L54.0,12.5 L56.0,11.9 L58.0,11.5 L60.0,11.2 L62.0,11.1 L64.0,11.2" fill="none" stroke="#2b2b2b" stroke-width="1"/><ellipse cx="-66.0" cy="-5.3" rx="3.2" ry="1.95" transform="rotate(-10 -66.0 -5.3)" fill="none" stroke="#1e1e1e" stroke-width="1.2"/><ellipse cx="-54.0" cy="-4.3" rx="3.2" ry="1.95" transform="rotate(18 -54.0 -4.3)" fill="none" stroke="#1e1e1e" stroke-width="1.2"/><ellipse cx="-42.0" cy="0.8" rx="3.2" ry="1.95" transform="rotate(22 -42.0 0.8)" fill="none" stroke="#1e1e1e" stroke-width="1.2"/><ellipse cx="-30.0" cy="3.3" rx="3.2" ry="1.95" transform="rotate(-3 -30.0 3.3)" fill="none" stroke="#1e1e1e" stroke-width="1.2"/><ellipse cx="-18.0" cy="-0.1" rx="3.2" ry="1.95" transform="rotate(-24 -18.0 -0.1)" fill="none" stroke="#1e1e1e" stroke-width="1.2"/><ellipse cx="-6.0" cy="-4.9" rx="3.2" ry="1.95" transform="rotate(-15 -6.0 -4.9)" fill="none" stroke="#1e1e1e" stroke-width="1.2"/><ellipse cx="6.0" cy="-4.9" rx="3.2" ry="1.95" transform="rotate(15 6.0 -4.9)" fill="none" stroke="#1e1e1e" stroke-width="1.2"/><ellipse cx="18.0" cy="-0.1" rx="3.2" ry="1.95" transform="rotate(24 18.0 -0.1)" fill="none" stroke="#1e1e1e" stroke-width="1.2"/><ellipse cx="30.0" cy="3.3" rx="3.2" ry="1.95" transform="rotate(3 30.0 3.3)" fill="none" stroke="#1e1e1e" stroke-width="1.2"/><ellipse cx="42.0" cy="0.8" rx="3.2" ry="1.95" transform="rotate(-22 42.0 0.8)" fill="none" stroke="#1e1e1e" stroke-width="1.2"/><ellipse cx="54.0" cy="-4.3" rx="3.2" ry="1.95" transform="rotate(-18 54.0 -4.3)" fill="none" stroke="#1e1e1e" stroke-width="1.2"/><ellipse cx="-60.0" cy="5.1" rx="3.2" ry="1.95" transform="rotate(5 -60.0 5.1)" fill="none" stroke="#1e1e1e" stroke-width="1.2"/><ellipse cx="-48.0" cy="8.8" rx="3.2" ry="1.95" transform="rotate(24 -48.0 8.8)" fill="none" stroke="#1e1e1e" stroke-width="1.2"/><ellipse cx="-36.0" cy="13.4" rx="3.2" ry="1.95" transform="rotate(12 -36.0 13.4)" fill="none" stroke="#1e1e1e" stroke-width="1.2"/><ellipse cx="-24.0" cy="12.9" rx="3.2" ry="1.95" transform="rotate(-17 -24.0 12.9)" fill="none" stroke="#1e1e1e" stroke-width="1.2"/><ellipse cx="-12.0" cy="7.9" rx="3.2" ry="1.95" transform="rotate(-23 -12.0 7.9)" fill="none" stroke="#1e1e1e" stroke-width="1.2"/><ellipse cx="0.0" cy="5.0" rx="3.2" ry="1.95" transform="rotate(0 0.0 5.0)" fill="none" stroke="#1e1e1e" stroke-width="1.2"/><ellipse cx="12.0" cy="7.9" rx="3.2" ry="1.95" transform="rotate(23 12.0 7.9)" fill="none" stroke="#1e1e1e" stroke-width="1.2"/><ellipse cx="24.0" cy="12.9" rx="3.2" ry="1.95" transform="rotate(17 24.0 12.9)" fill="none" stroke="#1e1e1e" stroke-width="1.2"/><ellipse cx="36.0" cy="13.4" rx="3.2" ry="1.95" transform="rotate(-12 36.0 13.4)" fill="none" stroke="#1e1e1e" stroke-width="1.2"/><ellipse cx="48.0" cy="8.8" rx="3.2" ry="1.95" transform="rotate(-24 48.0 8.8)" fill="none" stroke="#1e1e1e" stroke-width="1.2"/><ellipse cx="60.0" cy="5.1" rx="3.2" ry="1.95" transform="rotate(-5 60.0 5.1)" fill="none" stroke="#1e1e1e" stroke-width="1.2"/></g></g><rect x="-47.5" y="-43.4" width="90.5" height="3.8" rx="1.8" transform="rotate(-1.6 -47.5 -41.6)" fill="#fff" stroke="#2b2b2b" stroke-width="1"/><rect x="-26.5" y="56" width="53" height="5.2" rx="2" fill="#fff" stroke="#2b2b2b" stroke-width="1"/><line x1="-25" y1="58.6" x2="25" y2="58.6" stroke="#555" stroke-width="0.7"/></g>
<g transform="translate(330,606) rotate(-25)"><path d="M-24,60.6 C-14,68 -8,76 -5.5,86 L9,86 C9.5,76 15,66 24,60.6" fill="#fff" stroke="#2b2b2b" stroke-width="1"/><rect x="-5" y="85.5" width="14" height="6" fill="#fff" stroke="#2b2b2b" stroke-width="1"/><ellipse cx="2" cy="87.5" rx="5" ry="2.2" fill="#ccc" stroke="#222" stroke-width="1"/></g>
<path d="M390,680 C396,692 408,703 424,708.5 C444,715 466,718.5 487,718.3" fill="none" stroke="#333" stroke-width="6.5" stroke-linecap="butt"/>
<path d="M390,680 C396,692 408,703 424,708.5 C444,715 466,718.5 487,718.3" fill="none" stroke="#fff" stroke-width="4.5" stroke-linecap="butt" pathLength="1000" stroke-dasharray="0 11.3 977.4 1000"/>
<path d="M359.4,699 C372,692 392,684 417,683.5 C436,683.5 450,692 470,706 C488,719 504,724 530,724.5 C548,724 562,718 574.5,711.5" fill="none" stroke="#333" stroke-width="9" stroke-linecap="butt"/>
<path d="M359.4,699 C372,692 392,684 417,683.5 C436,683.5 450,692 470,706 C488,719 504,724 530,724.5 C548,724 562,718 574.5,711.5" fill="none" stroke="#fff" stroke-width="7" stroke-linecap="butt" pathLength="1000" stroke-dasharray="0 5.7 988.7 1000"/>
<g transform="translate(434,686.8) rotate(20)"><ellipse cx="0" cy="0" rx="4.6" ry="5.6" fill="#fff" stroke="#2b2b2b" stroke-width="1"/><path d="M-2.2,-5.2 Q-3.6,0 -2.2,5.2 M2.2,-5.2 Q3.6,0 2.2,5.2" fill="none" stroke="#555" stroke-width="0.8"/></g>
<g transform="translate(499.8,722.4) rotate(10)"><ellipse cx="0" cy="0" rx="4.6" ry="5.6" fill="#fff" stroke="#2b2b2b" stroke-width="1"/><path d="M-2.2,-5.2 Q-3.6,0 -2.2,5.2 M2.2,-5.2 Q3.6,0 2.2,5.2" fill="none" stroke="#555" stroke-width="0.8"/></g>
<path d="M447,692.5 C462,691 482,690 502,699 C520,707 532,718 545,733" fill="none" stroke="#333" stroke-width="6" stroke-linecap="butt"/>
<path d="M447,692.5 C462,691 482,690 502,699 C520,707 532,718 545,733" fill="none" stroke="#fff" stroke-width="4" stroke-linecap="butt" pathLength="1000" stroke-dasharray="0 11.8 976.4 1000"/>
<path d="M358,695 L363.5,703.5" stroke="#333" stroke-width="1.2"/>
<path d="M572,707.5 L577,715" stroke="#333" stroke-width="1.2"/>
<path d="M408,729 C400,712 390,696 387,684 C386,678 390,676 392,679 C396,688 402,696 410,703" fill="none" stroke="#333" stroke-width="3.6" stroke-linecap="round" stroke-linejoin="round"/>
<path d="M408,729 C400,712 390,696 387,684 C386,678 390,676 392,679 C396,688 402,696 410,703" fill="none" stroke="#fff" stroke-width="1.6" stroke-linecap="round" stroke-linejoin="round"/>
<path d="M521.5,677 C528,690 536,708 542,724 C545,732 543,736 540,731 C536,722 532,714 528,708" fill="none" stroke="#333" stroke-width="3.6" stroke-linecap="round" stroke-linejoin="round"/>
<path d="M521.5,677 C528,690 536,708 542,724 C545,732 543,736 540,731 C536,722 532,714 528,708" fill="none" stroke="#fff" stroke-width="1.6" stroke-linecap="round" stroke-linejoin="round"/>
<clipPath id="cr1"><path d="M406.5,730 C407,738 411,751 419,759.5 C424,764 432,763.5 435,756 C437,749 432,742 424,737 C418,733 412,730 406.5,730 Z"/></clipPath>
<path d="M406.5,730 C407,738 411,751 419,759.5 C424,764 432,763.5 435,756 C437,749 432,742 424,737 C418,733 412,730 406.5,730 Z" fill="#fff" stroke="#333" stroke-width="1.1"/>
<g clip-path="url(#cr1)"><line x1="411" y1="727" x2="423" y2="769" stroke="#333" stroke-width="1"/><line x1="421" y1="727" x2="433" y2="769" stroke="#333" stroke-width="1"/><line x1="431" y1="727" x2="443" y2="769" stroke="#333" stroke-width="1"/><line x1="400" y1="737.2" x2="445" y2="740.2" stroke="#333" stroke-width="1"/><line x1="400" y1="747.5" x2="445" y2="750.5" stroke="#333" stroke-width="1"/><line x1="400" y1="757.3" x2="445" y2="760.3" stroke="#333" stroke-width="1"/></g>
<path d="M403,729.5 C404,726.5 409,726.5 412,729 C415,731.5 416,735 413.5,737 C410.5,739 405.5,737.5 404,734.5 Z" fill="#fff" stroke="#333" stroke-width="1.1"/>
<circle cx="408.5" cy="733" r="2" fill="none" stroke="#333" stroke-width="1"/>
<clipPath id="cr2"><path d="M546.6,651.5 C547.5,643 546,634 541,626.6 C537,621.5 532,620.5 528,621.5 C523,623 520.5,628 521.5,633 C523,640 529,645 546.6,651.5 Z"/></clipPath>
<path d="M546.6,651.5 C547.5,643 546,634 541,626.6 C537,621.5 532,620.5 528,621.5 C523,623 520.5,628 521.5,633 C523,640 529,645 546.6,651.5 Z" fill="#fff" stroke="#333" stroke-width="1.1"/>
<g clip-path="url(#cr2)"><line x1="529.5" y1="617" x2="524" y2="641" stroke="#333" stroke-width="1"/><line x1="538.5" y1="618" x2="531.5" y2="651" stroke="#333" stroke-width="1"/><line x1="547" y1="625" x2="541" y2="656" stroke="#333" stroke-width="1"/><line x1="518" y1="624" x2="550" y2="627.5" stroke="#333" stroke-width="1"/><line x1="518" y1="634" x2="550" y2="637.5" stroke="#333" stroke-width="1"/><line x1="518" y1="644.5" x2="550" y2="648" stroke="#333" stroke-width="1"/></g>
<path d="M542,650.2 L521,658.6 L521,672.6" stroke="#2b2b2b" stroke-width="1" fill="none"/>
<circle cx="523" cy="676.5" r="3.2" fill="#fff" stroke="#333" stroke-width="1.1"/>
<path d="M517,673 L521.5,680.5 M527,672 L526,679" stroke="#333" stroke-width="1.1" fill="none"/>
<line x1="567.9" y1="601.2" x2="567.9" y2="630" stroke="#222" stroke-width="2"/>
<circle cx="567.9" cy="630" r="1.6" fill="#222"/>
<line x1="567.9" y1="615.2" x2="593.1" y2="615.2" stroke="#2b2b2b" stroke-width="1.1"/>
<line x1="547.6" y1="642.9" x2="593.1" y2="642.9" stroke="#2b2b2b" stroke-width="1.1"/>
<g transform="translate(565,724) rotate(-25)"><rect x="-6.5" y="-2.5" width="13" height="7" fill="#fff" stroke="#2b2b2b" stroke-width="1"/><ellipse cx="0" cy="3.5" rx="5" ry="2.2" fill="#bbb" stroke="#222" stroke-width="1"/></g>
<path d="M560,731.5 C559,743 558,752 556,760 L603,738.5 C594,736 583,731 574.5,724.5 Z" stroke="#2b2b2b" stroke-width="1.1" fill="#fff"/>
<g transform="translate(580,751) rotate(-25)"><path d="M-14,1 L15,1 L15.5,31 L-13.5,31 Z" fill="#3c3c3c" stroke="#222" stroke-width="1"/><line x1="-14" y1="3.0" x2="15.5" y2="3.0" stroke="#9a9a9a" stroke-width="0.7"/><line x1="-14" y1="5.2" x2="15.5" y2="5.2" stroke="#9a9a9a" stroke-width="0.7"/><line x1="-14" y1="7.4" x2="15.5" y2="7.4" stroke="#9a9a9a" stroke-width="0.7"/><line x1="-14" y1="9.6" x2="15.5" y2="9.6" stroke="#9a9a9a" stroke-width="0.7"/><line x1="-14" y1="11.8" x2="15.5" y2="11.8" stroke="#9a9a9a" stroke-width="0.7"/><line x1="-14" y1="14.0" x2="15.5" y2="14.0" stroke="#9a9a9a" stroke-width="0.7"/><line x1="-14" y1="16.2" x2="15.5" y2="16.2" stroke="#9a9a9a" stroke-width="0.7"/><line x1="-14" y1="18.4" x2="15.5" y2="18.4" stroke="#9a9a9a" stroke-width="0.7"/><line x1="-14" y1="20.6" x2="15.5" y2="20.6" stroke="#9a9a9a" stroke-width="0.7"/><line x1="-14" y1="22.8" x2="15.5" y2="22.8" stroke="#9a9a9a" stroke-width="0.7"/><line x1="-14" y1="25.0" x2="15.5" y2="25.0" stroke="#9a9a9a" stroke-width="0.7"/><line x1="-14" y1="27.2" x2="15.5" y2="27.2" stroke="#9a9a9a" stroke-width="0.7"/><line x1="-14" y1="29.4" x2="15.5" y2="29.4" stroke="#9a9a9a" stroke-width="0.7"/><rect x="-3.8" y="0" width="8.6" height="22" fill="#fff" stroke="#333" stroke-width="0.9"/></g>
<g transform="translate(580,751) rotate(-25)"><rect x="-27" y="-2.2" width="54" height="4.4" rx="2" fill="#fff" stroke="#2b2b2b" stroke-width="1.1"/></g>
<g transform="translate(657.3,902.5) rotate(-26)"><rect x="-24" y="-3.2" width="48" height="6.4" fill="#fff" stroke="#333" stroke-width="1.1"/><rect x="-22.0" y="-1.5" width="2.6" height="3.6" rx="0.8" fill="none" stroke="#444" stroke-width="0.8"/><rect x="-17.6" y="-1.5" width="2.6" height="3.6" rx="0.8" fill="none" stroke="#444" stroke-width="0.8"/><rect x="-13.2" y="-1.5" width="2.6" height="3.6" rx="0.8" fill="none" stroke="#444" stroke-width="0.8"/><rect x="-8.8" y="-1.5" width="2.6" height="3.6" rx="0.8" fill="none" stroke="#444" stroke-width="0.8"/><rect x="-4.4" y="-1.5" width="2.6" height="3.6" rx="0.8" fill="none" stroke="#444" stroke-width="0.8"/><rect x="0.0" y="-1.5" width="2.6" height="3.6" rx="0.8" fill="none" stroke="#444" stroke-width="0.8"/><rect x="4.4" y="-1.5" width="2.6" height="3.6" rx="0.8" fill="none" stroke="#444" stroke-width="0.8"/><rect x="8.8" y="-1.5" width="2.6" height="3.6" rx="0.8" fill="none" stroke="#444" stroke-width="0.8"/><rect x="13.2" y="-1.5" width="2.6" height="3.6" rx="0.8" fill="none" stroke="#444" stroke-width="0.8"/><rect x="17.6" y="-1.5" width="2.6" height="3.6" rx="0.8" fill="none" stroke="#444" stroke-width="0.8"/><line x1="-24" y1="-1.8" x2="24" y2="-1.8" stroke="#333" stroke-width="0.8"/></g>
<path d="M652.8,958.8 C656,962 660,962.5 666,961.5 C680,957 694,948 702,939 C708,932 706,927 697.6,927.2 C690,927.4 684,929 674.4,933.6" stroke="#333" stroke-width="1.2" fill="none"/>
<path d="M686.4,921.2 L674.4,933.6 L691.2,934" stroke="#333" stroke-width="1.2" fill="none"/>
<text x="592.5" y="622.3" font-family="Liberation Serif" font-size="19.5" text-anchor="start" fill="#1a1a1a">12</text>
<text x="592.5" y="649.6" font-family="Liberation Serif" font-size="19.5" text-anchor="start" fill="#1a1a1a">13</text>
<line x1="576" y1="711.5" x2="647.2" y2="711.5" stroke="#2b2b2b" stroke-width="1.1"/>
<line x1="604" y1="739.5" x2="647.2" y2="739.5" stroke="#2b2b2b" stroke-width="1.1"/>
<line x1="607" y1="773" x2="647.2" y2="773" stroke="#2b2b2b" stroke-width="1.1"/>
<text x="646.5" y="718.2" font-family="Liberation Serif" font-size="19.5" text-anchor="start" fill="#1a1a1a">14</text>
<text x="646.5" y="746.8" font-family="Liberation Serif" font-size="19.5" text-anchor="start" fill="#1a1a1a">15</text>
<text x="646.5" y="778" font-family="Liberation Serif" font-size="19.5" text-anchor="start" fill="#1a1a1a">16</text>
<line x1="688.8" y1="843.2" x2="729.6" y2="843.2" stroke="#2b2b2b" stroke-width="1.1"/>
<line x1="679.2" y1="896.7" x2="729.6" y2="896.7" stroke="#2b2b2b" stroke-width="1.1"/>
<text x="728.8" y="850" font-family="Liberation Serif" font-size="19.5" text-anchor="start" fill="#1a1a1a">17</text>
<text x="728.8" y="904" font-family="Liberation Serif" font-size="19.5" text-anchor="start" fill="#1a1a1a">18</text>
<path d="M186.4,112.4 L195.4,112.4 L205.6,74.3 L196.0,74.3 Z" fill="#161616"/>
<path d="M176.2,74.3 L185.8,74.3 L195.1,112.4 L185.8,112.4 Z" fill="#a9a9a9" stroke="#333" stroke-width="1.1"/>
<path d="M206.2,112.4 L216.4,112.4 L225.7,74.3 L216.4,74.3 Z" fill="#161616"/>
<path d="M197.2,74.3 L205.6,74.3 L215.2,112.4 L205.6,112.4 Z" fill="#a9a9a9" stroke="#333" stroke-width="1.1"/>
<path d="M236.2,74.3 L250.2,74.3 L250.2,81.6 L236.2,81.6 Z" fill="#161616"/>
<path d="M236.2,90.4 L248.8,90.4 L248.8,96.7 L236.2,96.7 Z" fill="#161616"/>
<path d="M236.2,105.1 L250.9,105.1 L250.9,112.4 L236.2,112.4 Z" fill="#161616"/>
<path d="M228.4,74.3 L236.2,74.3 L236.2,112.4 L228.4,112.4 Z" fill="#a9a9a9" stroke="#333" stroke-width="1.1"/>
<path d="M261,74.3 L267,74.3 C277.5,74.3 283.8,82 283.8,93.3 C283.8,104.6 277.5,112.4 267,112.4 L261,112.4 Z M261,81.6 L266,81.6 C272,81.6 275.4,86.5 275.4,93.2 C275.4,100 272,104.7 266,104.7 L261,104.7 Z" fill="#161616" fill-rule="evenodd"/>
<path d="M252.5,74.3 L261.1,74.3 L261.1,112.4 L252.5,112.4 Z" fill="#a9a9a9" stroke="#333" stroke-width="1.1"/>
<path d="M287.4,97.5 L287.2,96.7 L287.0,96.0 L286.9,95.1 L286.8,94.3 L286.7,93.5 L286.7,92.7 L286.7,91.9 L286.8,91.1 L286.9,90.3 L287.0,89.5 L287.2,88.7 L287.4,87.9 L287.6,87.1 L287.9,86.4 L288.2,85.7 L288.6,85.0 L289.0,84.3 L289.4,83.7 L289.8,83.1 L290.3,82.5 L290.8,82.0 L291.3,81.5 L291.8,81.1 L292.4,80.7 L292.9,80.3 L293.5,80.0 L294.1,79.7 L294.7,79.5 L295.4,79.3 L296.0,79.1" fill="none" stroke="#b4b4b4" stroke-width="8.5"/>
<path d="M295.1,79.5 L296.4,79.1 L297.7,79.0 L299.0,79.1 L300.3,79.4 L301.6,79.9 L302.8,80.6 L303.9,81.5 L304.9,82.6 L305.9,83.8 L306.7,85.2 L307.3,86.7 L307.8,88.3 L308.2,90.0 L308.4,91.7 L308.4,93.4 L308.2,95.1 L307.9,96.8 L307.5,98.4 L306.9,99.9 L306.1,101.4 L305.2,102.6 L304.2,103.8 L303.1,104.7 L301.9,105.5 L300.7,106.1 L299.4,106.4 L298.1,106.6 L296.8,106.5 L295.4,106.3 L294.2,105.8" fill="none" stroke="#161616" stroke-width="9.5"/>
<path d="M295.6,106.4 L295.2,106.3 L294.8,106.2 L294.4,106.0 L294.0,105.9 L293.7,105.7 L293.3,105.5 L292.9,105.3 L292.5,105.1 L292.2,104.8 L291.8,104.5 L291.5,104.3 L291.2,104.0 L290.8,103.6 L290.5,103.3 L290.2,103.0 L289.9,102.6 L289.6,102.2 L289.3,101.9 L289.1,101.5 L288.8,101.0 L288.6,100.6 L288.4,100.2 L288.2,99.7 L288.0,99.3 L287.8,98.8 L287.6,98.3 L287.5,97.9 L287.3,97.4 L287.2,96.9 L287.1,96.4" fill="none" stroke="#c8c8c8" stroke-width="6"/>
<path d="M291,83 C294,86 296,90 297,94" fill="none" stroke="#222" stroke-width="1.4"/>
<path d="M295,82 C298,85 300,89 301,93" fill="none" stroke="#222" stroke-width="1.4"/>
<path d="M299,81 C301,84 302,87 303,90" fill="none" stroke="#222" stroke-width="1.4"/>
<ellipse cx="280.7" cy="74.7" rx="1.69" ry="1.02" transform="rotate(-46 280.7 74.7)" fill="#161616"/>
<ellipse cx="284.6" cy="75.1" rx="1.37" ry="0.82" transform="rotate(-47 284.6 75.1)" fill="#161616"/>
<ellipse cx="287.9" cy="75.2" rx="1.10" ry="0.66" transform="rotate(-48 287.9 75.2)" fill="#161616"/>
<ellipse cx="290.6" cy="75.2" rx="0.89" ry="0.53" transform="rotate(-48 290.6 75.2)" fill="#161616"/>
<ellipse cx="292.8" cy="75.1" rx="0.72" ry="0.43" transform="rotate(-49 292.8 75.1)" fill="#161616"/>
<ellipse cx="294.7" cy="74.9" rx="0.58" ry="0.35" transform="rotate(-50 294.7 74.9)" fill="#161616"/>
<ellipse cx="271.0" cy="64.7" rx="2.08" ry="1.25" transform="rotate(-40 271.0 64.7)" fill="#161616"/>
<ellipse cx="276.2" cy="67.1" rx="1.68" ry="1.01" transform="rotate(-41 276.2 67.1)" fill="#161616"/>
<ellipse cx="280.6" cy="68.9" rx="1.36" ry="0.81" transform="rotate(-42 280.6 68.9)" fill="#161616"/>
<ellipse cx="284.3" cy="70.2" rx="1.09" ry="0.66" transform="rotate(-42 284.3 70.2)" fill="#161616"/>
<ellipse cx="287.4" cy="71.2" rx="0.88" ry="0.53" transform="rotate(-43 287.4 71.2)" fill="#161616"/>
<ellipse cx="290.1" cy="71.9" rx="0.71" ry="0.43" transform="rotate(-44 290.1 71.9)" fill="#161616"/>
<ellipse cx="292.3" cy="72.4" rx="0.58" ry="0.35" transform="rotate(-45 292.3 72.4)" fill="#161616"/>
<ellipse cx="294.1" cy="72.7" rx="0.50" ry="0.30" transform="rotate(-45 294.1 72.7)" fill="#161616"/>
<ellipse cx="267.1" cy="54.1" rx="2.24" ry="1.34" transform="rotate(-36 267.1 54.1)" fill="#161616"/>
<ellipse cx="272.6" cy="58.4" rx="1.80" ry="1.08" transform="rotate(-37 272.6 58.4)" fill="#161616"/>
<ellipse cx="277.3" cy="61.9" rx="1.46" ry="0.87" transform="rotate(-38 277.3 61.9)" fill="#161616"/>
<ellipse cx="281.3" cy="64.5" rx="1.18" ry="0.71" transform="rotate(-38 281.3 64.5)" fill="#161616"/>
<ellipse cx="284.8" cy="66.6" rx="0.95" ry="0.57" transform="rotate(-39 284.8 66.6)" fill="#161616"/>
<ellipse cx="287.7" cy="68.2" rx="0.77" ry="0.46" transform="rotate(-40 287.7 68.2)" fill="#161616"/>
<ellipse cx="290.2" cy="69.4" rx="0.62" ry="0.37" transform="rotate(-41 290.2 69.4)" fill="#161616"/>
<ellipse cx="292.3" cy="70.3" rx="0.50" ry="0.30" transform="rotate(-41 292.3 70.3)" fill="#161616"/>
<ellipse cx="294.0" cy="71.0" rx="0.50" ry="0.30" transform="rotate(-42 294.0 71.0)" fill="#161616"/>
<ellipse cx="269.6" cy="46.2" rx="2.30" ry="1.38" transform="rotate(-33 269.6 46.2)" fill="#161616"/>
<ellipse cx="274.4" cy="51.8" rx="1.86" ry="1.11" transform="rotate(-33 274.4 51.8)" fill="#161616"/>
<ellipse cx="278.5" cy="56.3" rx="1.50" ry="0.90" transform="rotate(-34 278.5 56.3)" fill="#161616"/>
<ellipse cx="282.1" cy="59.9" rx="1.21" ry="0.73" transform="rotate(-35 282.1 59.9)" fill="#161616"/>
<ellipse cx="285.3" cy="62.7" rx="0.98" ry="0.59" transform="rotate(-36 285.3 62.7)" fill="#161616"/>
<ellipse cx="288.0" cy="64.9" rx="0.79" ry="0.47" transform="rotate(-36 288.0 64.9)" fill="#161616"/>
<ellipse cx="290.3" cy="66.7" rx="0.64" ry="0.38" transform="rotate(-37 290.3 66.7)" fill="#161616"/>
<ellipse cx="292.3" cy="68.1" rx="0.51" ry="0.31" transform="rotate(-38 292.3 68.1)" fill="#161616"/>
<ellipse cx="293.9" cy="69.1" rx="0.50" ry="0.30" transform="rotate(-39 293.9 69.1)" fill="#161616"/>
<ellipse cx="295.4" cy="69.9" rx="0.50" ry="0.30" transform="rotate(-39 295.4 69.9)" fill="#161616"/>
<ellipse cx="275.4" cy="41.1" rx="2.35" ry="1.41" transform="rotate(-30 275.4 41.1)" fill="#161616"/>
<ellipse cx="279.0" cy="47.4" rx="1.90" ry="1.14" transform="rotate(-30 279.0 47.4)" fill="#161616"/>
<ellipse cx="282.2" cy="52.4" rx="1.53" ry="0.92" transform="rotate(-31 282.2 52.4)" fill="#161616"/>
<ellipse cx="285.1" cy="56.5" rx="1.24" ry="0.74" transform="rotate(-32 285.1 56.5)" fill="#161616"/>
<ellipse cx="287.6" cy="59.8" rx="1.00" ry="0.60" transform="rotate(-33 287.6 59.8)" fill="#161616"/>
<ellipse cx="289.8" cy="62.5" rx="0.81" ry="0.48" transform="rotate(-33 289.8 62.5)" fill="#161616"/>
<ellipse cx="291.7" cy="64.6" rx="0.65" ry="0.39" transform="rotate(-34 291.7 64.6)" fill="#161616"/>
<ellipse cx="293.3" cy="66.2" rx="0.53" ry="0.32" transform="rotate(-35 293.3 66.2)" fill="#161616"/>
<ellipse cx="294.8" cy="67.6" rx="0.50" ry="0.30" transform="rotate(-36 294.8 67.6)" fill="#161616"/>
<ellipse cx="296.0" cy="68.6" rx="0.50" ry="0.30" transform="rotate(-36 296.0 68.6)" fill="#161616"/>
<ellipse cx="283.1" cy="38.8" rx="2.40" ry="1.44" transform="rotate(-26 283.1 38.8)" fill="#161616"/>
<ellipse cx="285.3" cy="45.2" rx="1.94" ry="1.16" transform="rotate(-27 285.3 45.2)" fill="#161616"/>
<ellipse cx="287.3" cy="50.4" rx="1.57" ry="0.94" transform="rotate(-28 287.3 50.4)" fill="#161616"/>
<ellipse cx="289.2" cy="54.7" rx="1.26" ry="0.76" transform="rotate(-29 289.2 54.7)" fill="#161616"/>
<ellipse cx="291.0" cy="58.1" rx="1.02" ry="0.61" transform="rotate(-29 291.0 58.1)" fill="#161616"/>
<ellipse cx="292.5" cy="60.9" rx="0.82" ry="0.49" transform="rotate(-30 292.5 60.9)" fill="#161616"/>
<ellipse cx="293.9" cy="63.2" rx="0.66" ry="0.40" transform="rotate(-31 293.9 63.2)" fill="#161616"/>
<ellipse cx="295.1" cy="65.0" rx="0.54" ry="0.32" transform="rotate(-32 295.1 65.0)" fill="#161616"/>
<ellipse cx="296.2" cy="66.5" rx="0.50" ry="0.30" transform="rotate(-32 296.2 66.5)" fill="#161616"/>
<ellipse cx="291.1" cy="38.1" rx="2.58" ry="1.55" transform="rotate(-23 291.1 38.1)" fill="#161616"/>
<ellipse cx="291.9" cy="44.3" rx="2.09" ry="1.25" transform="rotate(-24 291.9 44.3)" fill="#161616"/>
<ellipse cx="292.8" cy="49.5" rx="1.68" ry="1.01" transform="rotate(-24 292.8 49.5)" fill="#161616"/>
<ellipse cx="293.7" cy="53.7" rx="1.36" ry="0.81" transform="rotate(-25 293.7 53.7)" fill="#161616"/>
<ellipse cx="294.6" cy="57.1" rx="1.10" ry="0.66" transform="rotate(-26 294.6 57.1)" fill="#161616"/>
<ellipse cx="295.5" cy="60.0" rx="0.88" ry="0.53" transform="rotate(-27 295.5 60.0)" fill="#161616"/>
<ellipse cx="296.4" cy="62.3" rx="0.71" ry="0.43" transform="rotate(-27 296.4 62.3)" fill="#161616"/>
<ellipse cx="297.1" cy="64.2" rx="0.58" ry="0.35" transform="rotate(-28 297.1 64.2)" fill="#161616"/>
<ellipse cx="297.9" cy="65.7" rx="0.50" ry="0.30" transform="rotate(-29 297.9 65.7)" fill="#161616"/>
<ellipse cx="299.0" cy="39.3" rx="2.82" ry="1.69" transform="rotate(-19 299.0 39.3)" fill="#161616"/>
<ellipse cx="298.5" cy="45.0" rx="2.28" ry="1.37" transform="rotate(-20 298.5 45.0)" fill="#161616"/>
<ellipse cx="298.3" cy="49.8" rx="1.84" ry="1.10" transform="rotate(-21 298.3 49.8)" fill="#161616"/>
<ellipse cx="298.3" cy="53.8" rx="1.48" ry="0.89" transform="rotate(-21 298.3 53.8)" fill="#161616"/>
<ellipse cx="298.4" cy="57.1" rx="1.20" ry="0.72" transform="rotate(-22 298.4 57.1)" fill="#161616"/>
<ellipse cx="298.7" cy="59.8" rx="0.97" ry="0.58" transform="rotate(-23 298.7 59.8)" fill="#161616"/>
<ellipse cx="299.0" cy="62.0" rx="0.78" ry="0.47" transform="rotate(-24 299.0 62.0)" fill="#161616"/>
<ellipse cx="299.3" cy="63.9" rx="0.63" ry="0.38" transform="rotate(-24 299.3 63.9)" fill="#161616"/>
<ellipse cx="306.5" cy="41.5" rx="3.14" ry="1.88" transform="rotate(-15 306.5 41.5)" fill="#161616"/>
<ellipse cx="304.8" cy="46.6" rx="2.53" ry="1.52" transform="rotate(-16 304.8 46.6)" fill="#161616"/>
<ellipse cx="303.6" cy="50.9" rx="2.05" ry="1.23" transform="rotate(-17 303.6 50.9)" fill="#161616"/>
<ellipse cx="302.7" cy="54.4" rx="1.65" ry="0.99" transform="rotate(-17 302.7 54.4)" fill="#161616"/>
<ellipse cx="302.1" cy="57.5" rx="1.33" ry="0.80" transform="rotate(-18 302.1 57.5)" fill="#161616"/>
<ellipse cx="301.8" cy="60.0" rx="1.08" ry="0.65" transform="rotate(-19 301.8 60.0)" fill="#161616"/>
<ellipse cx="301.5" cy="62.1" rx="0.87" ry="0.52" transform="rotate(-20 301.5 62.1)" fill="#161616"/>
<ellipse cx="301.4" cy="63.8" rx="0.70" ry="0.42" transform="rotate(-20 301.4 63.8)" fill="#161616"/>
<ellipse cx="313.8" cy="44.1" rx="3.54" ry="2.13" transform="rotate(-11 313.8 44.1)" fill="#161616"/>
<ellipse cx="310.9" cy="48.5" rx="2.86" ry="1.72" transform="rotate(-11 310.9 48.5)" fill="#161616"/>
<ellipse cx="308.7" cy="52.2" rx="2.31" ry="1.38" transform="rotate(-12 308.7 52.2)" fill="#161616"/>
<ellipse cx="307.0" cy="55.4" rx="1.86" ry="1.12" transform="rotate(-13 307.0 55.4)" fill="#161616"/>
<ellipse cx="305.7" cy="58.1" rx="1.50" ry="0.90" transform="rotate(-14 305.7 58.1)" fill="#161616"/>
<ellipse cx="304.8" cy="60.4" rx="1.21" ry="0.73" transform="rotate(-14 304.8 60.4)" fill="#161616"/>
<ellipse cx="304.0" cy="62.3" rx="0.98" ry="0.59" transform="rotate(-15 304.0 62.3)" fill="#161616"/>
<ellipse cx="303.5" cy="63.9" rx="0.79" ry="0.47" transform="rotate(-16 303.5 63.9)" fill="#161616"/>
<ellipse cx="319.9" cy="48.8" rx="3.65" ry="2.19" transform="rotate(-6 319.9 48.8)" fill="#161616"/>
<ellipse cx="316.2" cy="52.1" rx="2.95" ry="1.77" transform="rotate(-7 316.2 52.1)" fill="#161616"/>
<ellipse cx="313.2" cy="55.0" rx="2.38" ry="1.43" transform="rotate(-8 313.2 55.0)" fill="#161616"/>
<ellipse cx="310.9" cy="57.6" rx="1.92" ry="1.15" transform="rotate(-8 310.9 57.6)" fill="#161616"/>
<ellipse cx="309.0" cy="59.7" rx="1.55" ry="0.93" transform="rotate(-9 309.0 59.7)" fill="#161616"/>
<ellipse cx="307.5" cy="61.6" rx="1.25" ry="0.75" transform="rotate(-10 307.5 61.6)" fill="#161616"/>
<ellipse cx="306.4" cy="63.2" rx="1.01" ry="0.61" transform="rotate(-11 306.4 63.2)" fill="#161616"/>
<ellipse cx="305.5" cy="64.6" rx="0.81" ry="0.49" transform="rotate(-11 305.5 64.6)" fill="#161616"/>
<ellipse cx="326.2" cy="53.6" rx="3.83" ry="2.30" transform="rotate(-2 326.2 53.6)" fill="#161616"/>
<ellipse cx="321.6" cy="55.9" rx="3.09" ry="1.85" transform="rotate(-2 321.6 55.9)" fill="#161616"/>
<ellipse cx="317.8" cy="58.0" rx="2.50" ry="1.50" transform="rotate(-3 317.8 58.0)" fill="#161616"/>
<ellipse cx="314.8" cy="59.8" rx="2.01" ry="1.21" transform="rotate(-4 314.8 59.8)" fill="#161616"/>
<ellipse cx="312.3" cy="61.5" rx="1.63" ry="0.98" transform="rotate(-5 312.3 61.5)" fill="#161616"/>
<ellipse cx="310.4" cy="62.9" rx="1.31" ry="0.79" transform="rotate(-5 310.4 62.9)" fill="#161616"/>
<ellipse cx="308.8" cy="64.2" rx="1.06" ry="0.64" transform="rotate(-6 308.8 64.2)" fill="#161616"/>
<ellipse cx="307.5" cy="65.3" rx="0.85" ry="0.51" transform="rotate(-7 307.5 65.3)" fill="#161616"/>
<ellipse cx="334.7" cy="58.3" rx="4.16" ry="2.49" transform="rotate(3 334.7 58.3)" fill="#161616"/>
<ellipse cx="328.8" cy="59.5" rx="3.35" ry="2.01" transform="rotate(2 328.8 59.5)" fill="#161616"/>
<ellipse cx="324.0" cy="60.7" rx="2.71" ry="1.62" transform="rotate(2 324.0 60.7)" fill="#161616"/>
<ellipse cx="320.0" cy="61.9" rx="2.19" ry="1.31" transform="rotate(1 320.0 61.9)" fill="#161616"/>
<ellipse cx="316.7" cy="63.0" rx="1.76" ry="1.06" transform="rotate(0 316.7 63.0)" fill="#161616"/>
<ellipse cx="314.0" cy="64.0" rx="1.42" ry="0.85" transform="rotate(-1 314.0 64.0)" fill="#161616"/>
<ellipse cx="311.9" cy="65.0" rx="1.15" ry="0.69" transform="rotate(-1 311.9 65.0)" fill="#161616"/>
<ellipse cx="310.1" cy="65.9" rx="0.93" ry="0.56" transform="rotate(-2 310.1 65.9)" fill="#161616"/>
<ellipse cx="308.7" cy="66.7" rx="0.75" ry="0.45" transform="rotate(-3 308.7 66.7)" fill="#161616"/>
<ellipse cx="344.8" cy="64.4" rx="4.64" ry="2.78" transform="rotate(7 344.8 64.4)" fill="#161616"/>
<ellipse cx="337.4" cy="64.2" rx="3.74" ry="2.25" transform="rotate(6 337.4 64.2)" fill="#161616"/>
<ellipse cx="331.2" cy="64.3" rx="3.02" ry="1.81" transform="rotate(5 331.2 64.3)" fill="#161616"/>
<ellipse cx="326.1" cy="64.6" rx="2.44" ry="1.46" transform="rotate(5 326.1 64.6)" fill="#161616"/>
<ellipse cx="321.9" cy="65.0" rx="1.97" ry="1.18" transform="rotate(4 321.9 65.0)" fill="#161616"/>
<ellipse cx="318.4" cy="65.5" rx="1.59" ry="0.95" transform="rotate(3 318.4 65.5)" fill="#161616"/>
<ellipse cx="315.6" cy="66.1" rx="1.28" ry="0.77" transform="rotate(2 315.6 66.1)" fill="#161616"/>
<ellipse cx="313.2" cy="66.6" rx="1.03" ry="0.62" transform="rotate(2 313.2 66.6)" fill="#161616"/>
<ellipse cx="311.3" cy="67.2" rx="0.84" ry="0.50" transform="rotate(1 311.3 67.2)" fill="#161616"/>
<ellipse cx="309.7" cy="67.7" rx="0.67" ry="0.40" transform="rotate(0 309.7 67.7)" fill="#161616"/>
<ellipse cx="351.1" cy="72.1" rx="4.85" ry="2.91" transform="rotate(10 351.1 72.1)" fill="#161616"/>
<ellipse cx="342.9" cy="70.4" rx="3.91" ry="2.35" transform="rotate(9 342.9 70.4)" fill="#161616"/>
<ellipse cx="336.0" cy="69.2" rx="3.16" ry="1.90" transform="rotate(9 336.0 69.2)" fill="#161616"/>
<ellipse cx="330.3" cy="68.5" rx="2.55" ry="1.53" transform="rotate(8 330.3 68.5)" fill="#161616"/>
<ellipse cx="325.5" cy="68.1" rx="2.06" ry="1.23" transform="rotate(7 325.5 68.1)" fill="#161616"/>
<ellipse cx="321.5" cy="68.0" rx="1.66" ry="1.00" transform="rotate(6 321.5 68.0)" fill="#161616"/>
<ellipse cx="318.2" cy="68.0" rx="1.34" ry="0.80" transform="rotate(6 318.2 68.0)" fill="#161616"/>
<ellipse cx="315.4" cy="68.1" rx="1.08" ry="0.65" transform="rotate(5 315.4 68.1)" fill="#161616"/>
<ellipse cx="313.2" cy="68.3" rx="0.87" ry="0.52" transform="rotate(4 313.2 68.3)" fill="#161616"/>
<ellipse cx="311.3" cy="68.6" rx="0.70" ry="0.42" transform="rotate(3 311.3 68.6)" fill="#161616"/>
<ellipse cx="355.5" cy="80.8" rx="5.04" ry="3.02" transform="rotate(13 355.5 80.8)" fill="#161616"/>
<ellipse cx="346.9" cy="77.4" rx="4.07" ry="2.44" transform="rotate(12 346.9 77.4)" fill="#161616"/>
<ellipse cx="339.6" cy="74.9" rx="3.28" ry="1.97" transform="rotate(11 339.6 74.9)" fill="#161616"/>
<ellipse cx="333.4" cy="73.0" rx="2.65" ry="1.59" transform="rotate(11 333.4 73.0)" fill="#161616"/>
<ellipse cx="328.3" cy="71.8" rx="2.14" ry="1.28" transform="rotate(10 328.3 71.8)" fill="#161616"/>
<ellipse cx="324.0" cy="70.9" rx="1.73" ry="1.04" transform="rotate(9 324.0 70.9)" fill="#161616"/>
<ellipse cx="320.3" cy="70.3" rx="1.39" ry="0.84" transform="rotate(8 320.3 70.3)" fill="#161616"/>
<ellipse cx="317.3" cy="70.0" rx="1.12" ry="0.67" transform="rotate(8 317.3 70.0)" fill="#161616"/>
<ellipse cx="314.8" cy="69.8" rx="0.91" ry="0.54" transform="rotate(7 314.8 69.8)" fill="#161616"/>
<ellipse cx="312.7" cy="69.8" rx="0.73" ry="0.44" transform="rotate(6 312.7 69.8)" fill="#161616"/>
<ellipse cx="311.0" cy="69.8" rx="0.59" ry="0.35" transform="rotate(5 311.0 69.8)" fill="#161616"/>
<ellipse cx="360.1" cy="90.4" rx="4.96" ry="2.98" transform="rotate(15 360.1 90.4)" fill="#161616"/>
<ellipse cx="351.0" cy="85.2" rx="4.00" ry="2.40" transform="rotate(15 351.0 85.2)" fill="#161616"/>
<ellipse cx="343.3" cy="81.2" rx="3.23" ry="1.94" transform="rotate(14 343.3 81.2)" fill="#161616"/>
<ellipse cx="336.7" cy="78.2" rx="2.61" ry="1.56" transform="rotate(13 336.7 78.2)" fill="#161616"/>
<ellipse cx="331.2" cy="75.9" rx="2.10" ry="1.26" transform="rotate(12 331.2 75.9)" fill="#161616"/>
<ellipse cx="326.5" cy="74.2" rx="1.70" ry="1.02" transform="rotate(12 326.5 74.2)" fill="#161616"/>
<ellipse cx="322.6" cy="73.0" rx="1.37" ry="0.82" transform="rotate(11 322.6 73.0)" fill="#161616"/>
<ellipse cx="319.3" cy="72.1" rx="1.11" ry="0.66" transform="rotate(10 319.3 72.1)" fill="#161616"/>
<ellipse cx="316.5" cy="71.5" rx="0.89" ry="0.54" transform="rotate(9 316.5 71.5)" fill="#161616"/>
<ellipse cx="314.2" cy="71.1" rx="0.72" ry="0.43" transform="rotate(9 314.2 71.1)" fill="#161616"/>
<ellipse cx="312.2" cy="70.8" rx="0.58" ry="0.35" transform="rotate(8 312.2 70.8)" fill="#161616"/>
<ellipse cx="310.6" cy="70.7" rx="0.50" ry="0.30" transform="rotate(7 310.6 70.7)" fill="#161616"/>
<ellipse cx="357.2" cy="97.7" rx="4.31" ry="2.59" transform="rotate(18 357.2 97.7)" fill="#161616"/>
<ellipse cx="348.9" cy="91.3" rx="3.48" ry="2.09" transform="rotate(17 348.9 91.3)" fill="#161616"/>
<ellipse cx="341.8" cy="86.3" rx="2.81" ry="1.69" transform="rotate(16 341.8 86.3)" fill="#161616"/>
<ellipse cx="335.7" cy="82.5" rx="2.27" ry="1.36" transform="rotate(15 335.7 82.5)" fill="#161616"/>
<ellipse cx="330.5" cy="79.5" rx="1.83" ry="1.10" transform="rotate(15 330.5 79.5)" fill="#161616"/>
<ellipse cx="326.0" cy="77.2" rx="1.48" ry="0.89" transform="rotate(14 326.0 77.2)" fill="#161616"/>
<ellipse cx="322.3" cy="75.5" rx="1.19" ry="0.72" transform="rotate(13 322.3 75.5)" fill="#161616"/>
<ellipse cx="319.1" cy="74.2" rx="0.96" ry="0.58" transform="rotate(12 319.1 74.2)" fill="#161616"/>
<ellipse cx="316.5" cy="73.3" rx="0.78" ry="0.47" transform="rotate(12 316.5 73.3)" fill="#161616"/>
<ellipse cx="314.2" cy="72.5" rx="0.63" ry="0.38" transform="rotate(11 314.2 72.5)" fill="#161616"/>
<ellipse cx="312.3" cy="72.1" rx="0.51" ry="0.30" transform="rotate(10 312.3 72.1)" fill="#161616"/>
<ellipse cx="310.7" cy="71.7" rx="0.50" ry="0.30" transform="rotate(9 310.7 71.7)" fill="#161616"/>
<ellipse cx="350.0" cy="102.2" rx="3.60" ry="2.16" transform="rotate(20 350.0 102.2)" fill="#161616"/>
<ellipse cx="343.0" cy="95.4" rx="2.90" ry="1.74" transform="rotate(19 343.0 95.4)" fill="#161616"/>
<ellipse cx="337.1" cy="89.9" rx="2.34" ry="1.41" transform="rotate(18 337.1 89.9)" fill="#161616"/>
<ellipse cx="331.9" cy="85.6" rx="1.89" ry="1.14" transform="rotate(18 331.9 85.6)" fill="#161616"/>
<ellipse cx="327.4" cy="82.3" rx="1.53" ry="0.92" transform="rotate(17 327.4 82.3)" fill="#161616"/>
<ellipse cx="323.6" cy="79.6" rx="1.23" ry="0.74" transform="rotate(16 323.6 79.6)" fill="#161616"/>
<ellipse cx="320.4" cy="77.6" rx="0.99" ry="0.60" transform="rotate(15 320.4 77.6)" fill="#161616"/>
<ellipse cx="317.6" cy="76.0" rx="0.80" ry="0.48" transform="rotate(15 317.6 76.0)" fill="#161616"/>
<ellipse cx="315.3" cy="74.8" rx="0.65" ry="0.39" transform="rotate(14 315.3 74.8)" fill="#161616"/>
<ellipse cx="313.3" cy="73.9" rx="0.52" ry="0.31" transform="rotate(13 313.3 73.9)" fill="#161616"/>
<ellipse cx="311.6" cy="73.2" rx="0.50" ry="0.30" transform="rotate(12 311.6 73.2)" fill="#161616"/>
<ellipse cx="336.6" cy="101.0" rx="2.74" ry="1.65" transform="rotate(22 336.6 101.0)" fill="#161616"/>
<ellipse cx="331.9" cy="94.8" rx="2.21" ry="1.33" transform="rotate(21 331.9 94.8)" fill="#161616"/>
<ellipse cx="327.8" cy="89.9" rx="1.79" ry="1.07" transform="rotate(21 327.8 89.9)" fill="#161616"/>
<ellipse cx="324.2" cy="85.9" rx="1.44" ry="0.87" transform="rotate(20 324.2 85.9)" fill="#161616"/>
<ellipse cx="321.1" cy="82.8" rx="1.16" ry="0.70" transform="rotate(19 321.1 82.8)" fill="#161616"/>
<ellipse cx="318.4" cy="80.3" rx="0.94" ry="0.56" transform="rotate(18 318.4 80.3)" fill="#161616"/>
<ellipse cx="316.1" cy="78.3" rx="0.76" ry="0.45" transform="rotate(18 316.1 78.3)" fill="#161616"/>
<ellipse cx="314.1" cy="76.8" rx="0.61" ry="0.37" transform="rotate(17 314.1 76.8)" fill="#161616"/>
<ellipse cx="312.3" cy="75.5" rx="0.50" ry="0.30" transform="rotate(16 312.3 75.5)" fill="#161616"/>
<ellipse cx="310.9" cy="74.6" rx="0.50" ry="0.30" transform="rotate(15 310.9 74.6)" fill="#161616"/>
<ellipse cx="326.0" cy="100.2" rx="2.12" ry="1.27" transform="rotate(25 326.0 100.2)" fill="#161616"/>
<ellipse cx="323.1" cy="94.5" rx="1.71" ry="1.03" transform="rotate(24 323.1 94.5)" fill="#161616"/>
<ellipse cx="320.4" cy="90.0" rx="1.38" ry="0.83" transform="rotate(24 320.4 90.0)" fill="#161616"/>
<ellipse cx="318.1" cy="86.3" rx="1.11" ry="0.67" transform="rotate(23 318.1 86.3)" fill="#161616"/>
<ellipse cx="316.0" cy="83.3" rx="0.90" ry="0.54" transform="rotate(22 316.0 83.3)" fill="#161616"/>
<ellipse cx="314.2" cy="80.9" rx="0.73" ry="0.44" transform="rotate(21 314.2 80.9)" fill="#161616"/>
<ellipse cx="312.6" cy="79.0" rx="0.59" ry="0.35" transform="rotate(21 312.6 79.0)" fill="#161616"/>
<ellipse cx="311.2" cy="77.4" rx="0.50" ry="0.30" transform="rotate(20 311.2 77.4)" fill="#161616"/>
<ellipse cx="310.0" cy="76.2" rx="0.50" ry="0.30" transform="rotate(19 310.0 76.2)" fill="#161616"/>
<ellipse cx="314.6" cy="94.9" rx="1.48" ry="0.89" transform="rotate(29 314.6 94.9)" fill="#161616"/>
<ellipse cx="313.5" cy="90.6" rx="1.20" ry="0.72" transform="rotate(28 313.5 90.6)" fill="#161616"/>
<ellipse cx="312.3" cy="87.0" rx="0.97" ry="0.58" transform="rotate(27 312.3 87.0)" fill="#161616"/>
<ellipse cx="311.3" cy="84.1" rx="0.78" ry="0.47" transform="rotate(27 311.3 84.1)" fill="#161616"/>
<ellipse cx="310.3" cy="81.8" rx="0.63" ry="0.38" transform="rotate(26 310.3 81.8)" fill="#161616"/>
<ellipse cx="309.4" cy="79.8" rx="0.51" ry="0.30" transform="rotate(25 309.4 79.8)" fill="#161616"/>
<ellipse cx="308.6" cy="78.3" rx="0.50" ry="0.30" transform="rotate(24 308.6 78.3)" fill="#161616"/>
<path d="M281,71 C285,67 290,66 295,68" fill="none" stroke="#222" stroke-width="1.1"/>
<path d="M284,76 C288,71 295,70 300,73" fill="none" stroke="#222" stroke-width="1.1"/>
<path d="M298,71 C305,69 312,73 316,79" fill="none" stroke="#222" stroke-width="1.1"/>
<path d="M302,76 C309,75 316,80 319,87" fill="none" stroke="#222" stroke-width="1.1"/>
<path d="M284,102 C284,108 287,111 290,112 L292,104 C290,99 286,98 284,102 Z" fill="#bdbdbd"/>
<path d="M295,95.5 C289,94 284.5,97 283.5,102 C282.8,107 285,110.5 288.5,111.5" stroke-width="1.8" stroke="#111" fill="none" stroke-linecap="round" stroke-linejoin="round"/>
<path d="M292.5,96.5 C288,104 281,113 274.6,118.6 C272,120.5 268,120.8 266.5,120 C272,119 282,118.8 290,118.6" stroke-width="3" stroke="#111" fill="none" stroke-linecap="round" stroke-linejoin="round"/>
<path d="M293.5,108.5 C292,112 290.5,116 289.5,119" stroke-width="2.6" stroke="#111" fill="none" stroke-linecap="round" stroke-linejoin="round"/>
<path d="M313.4,110.5 C309,108.5 302,110 300.5,114.5 C299.5,119 304,121 308,118.5 C310.5,116.5 312.5,113 313.4,110.5 C311,117 307,124 298.4,131.8" stroke-width="2.8" stroke="#111" fill="none" stroke-linecap="round" stroke-linejoin="round"/>
<path d="M331.5,96.5 C327,104 318,115 313.4,121.2 M315.5,117 C319,112.5 324,109 327,109.5 C329,110.5 325,117 323.6,121.2" stroke-width="2.9" stroke="#111" fill="none" stroke-linecap="round" stroke-linejoin="round"/>
<path d="M343,97.5 C340,105 336,114 333.2,121.2 C335.5,121.5 339.5,118.5 342.8,115.8 M327,108.5 L341,106" stroke-width="2.8" stroke="#111" fill="none" stroke-linecap="round" stroke-linejoin="round"/>
</svg>
</body></html>
